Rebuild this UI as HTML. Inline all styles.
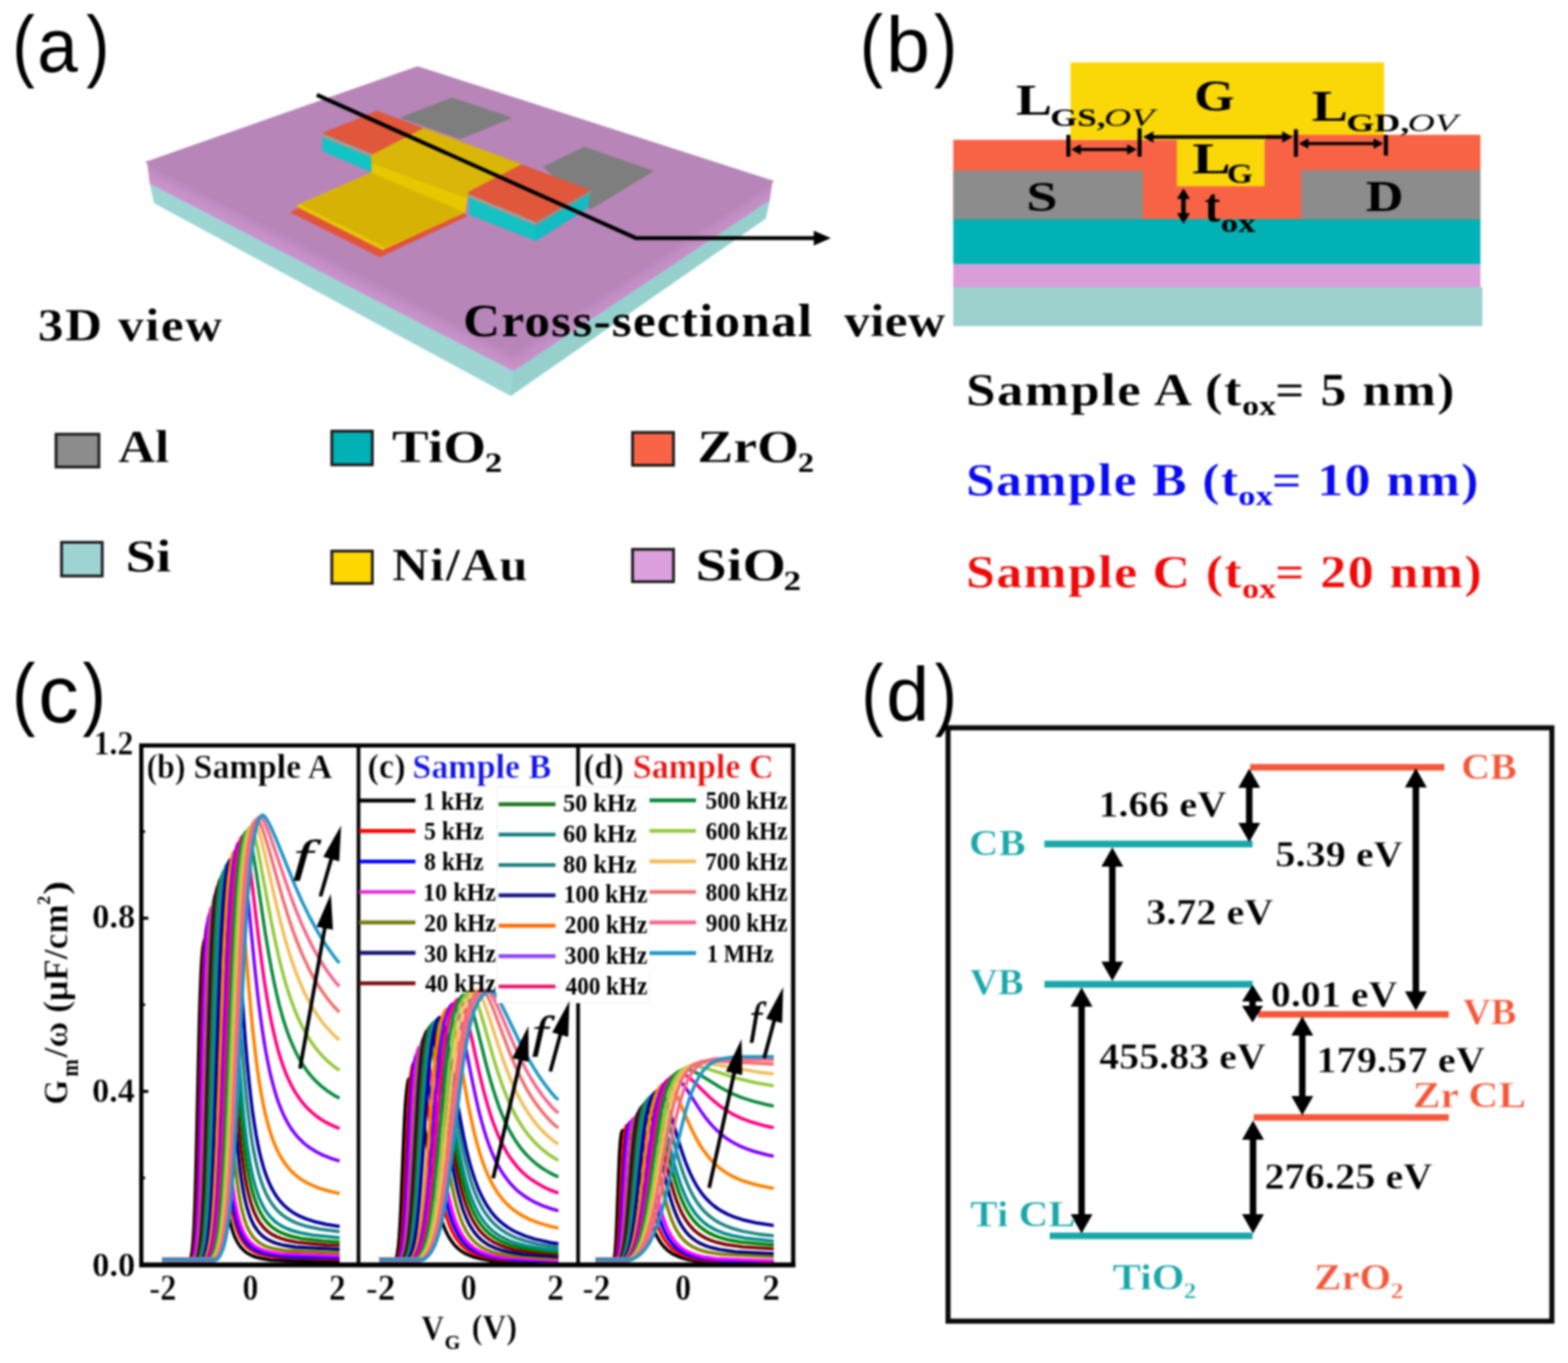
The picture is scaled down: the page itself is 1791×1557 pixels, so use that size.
<!DOCTYPE html>
<html lang="en">
<head>
<meta charset="utf-8">
<title>Figure</title>
<style>
html,body{margin:0;padding:0;background:#fff;}
body{width:1791px;height:1557px;overflow:hidden;}
svg{display:block;filter:blur(0.8px);}
text{white-space:pre;}
</style>
</head>
<body>
<svg xmlns="http://www.w3.org/2000/svg" width="1791" height="1557" viewBox="0 0 1791 1557">
<rect width="1791" height="1557" fill="#fff"/>
<!-- panel a -->
<defs><linearGradient id="sl" gradientUnits="userSpaceOnUse" x1="300" y1="254.6" x2="290.4" y2="273.1"><stop offset="0" stop-color="#b886b9"/><stop offset="0.5" stop-color="#c48fc6"/><stop offset="1" stop-color="#cb94cd"/></linearGradient><linearGradient id="sr" gradientUnits="userSpaceOnUse" x1="740" y1="301.4" x2="750" y2="316.5"><stop offset="0" stop-color="#b886b9"/><stop offset="0.5" stop-color="#c18dc3"/><stop offset="1" stop-color="#c891ca"/></linearGradient></defs>
<polygon points="171.3,209.5 586.4,423.5 583.4,452.1 176.3,232" fill="#9cd5d2" stroke="#9cd5d2" stroke-width="0.7" stroke-linejoin="round"/>
<polygon points="586.4,423.5 879,228.5 874.5,249.5 583.4,452.1" fill="#95d0cd" stroke="#95d0cd" stroke-width="0.7" stroke-linejoin="round"/>
<polygon points="168.3,184.2 588,399 586.4,423.5 171.3,209.5" fill="url(#sl)" stroke="url(#sl)" stroke-width="0.8"/>
<polygon points="588,399 881.9,206 879,228.5 586.4,423.5" fill="url(#sr)" stroke="url(#sr)" stroke-width="0.8"/>
<polygon points="166.3,185.2 477,76 883.9,207 588,401" fill="#b785b8" stroke="#b785b8" stroke-width="0.7" stroke-linejoin="round"/>
<polygon points="457.4,134.4 516,111.8 584.7,134.4 526,158.7" fill="#7e7e7e" stroke="#7e7e7e" stroke-width="0.7" stroke-linejoin="round"/>
<polygon points="620.7,190.5 667.6,167.9 746.3,195.5 674.3,239" fill="#7e7e7e" stroke="#7e7e7e" stroke-width="0.7" stroke-linejoin="round"/>
<polygon points="368.6,152 424.5,176 424.5,196.5 368.6,172.5" fill="#12c4c4" stroke="#12c4c4" stroke-width="0.7" stroke-linejoin="round"/>
<polygon points="536,221 612.3,253.3 612.3,275 536,245" fill="#14c2c4" stroke="#14c2c4" stroke-width="0.7" stroke-linejoin="round"/>
<polygon points="612.3,253.3 674.3,217.3 671,237.5 612.3,275" fill="#12bcc2" stroke="#12bcc2" stroke-width="0.7" stroke-linejoin="round"/>
<polygon points="368.6,152 424.5,176 424.5,179.5 368.6,156.5" fill="#a49a94" stroke="#a49a94" stroke-width="0.7" stroke-linejoin="round"/>
<polygon points="536,221 612.3,253.3 612.3,257.5 536,225.5" fill="#a49a94" stroke="#a49a94" stroke-width="0.7" stroke-linejoin="round"/>
<polygon points="612.3,253.3 674.3,217.3 673.5,221 612.3,257.5" fill="#8f8f8a" stroke="#8f8f8a" stroke-width="0.7" stroke-linejoin="round"/>
<polygon points="368.6,152 430.6,126.9 674.3,217.3 612.3,253.3" fill="#e0573c" stroke="#e0573c" stroke-width="0.7" stroke-linejoin="round"/>
<polygon points="331.8,242.4 425,198 534,246.5 434,293.5" fill="#e2533a" stroke="#e2533a" stroke-width="0.7" stroke-linejoin="round"/>
<polygon points="341,234 424.7,197.2 531.1,242.4 439,284.3 438,286 339,236" fill="#e6c60a" stroke="#e6c60a" stroke-width="0.7" stroke-linejoin="round"/>
<polygon points="343.5,233.5 424.7,197.2 531.1,242.4 439.5,282" fill="#d6b205" stroke="#d6b205" stroke-width="0.7" stroke-linejoin="round"/>
<polygon points="424.7,177.1 534.5,219 531.1,242.4 424.7,197.2" fill="#e6c800" stroke="#e6c800" stroke-width="0.7" stroke-linejoin="round"/>
<polygon points="424.7,177.1 484.2,146.4 595.4,187.6 534.5,219 534,226.5 424.7,186" fill="#d9b607" stroke="#d9b607" stroke-width="0.7" stroke-linejoin="round"/>
<polyline points="361.9,108.4 726.2,271.9 936,271.9" fill="none" stroke="#000" stroke-width="4.5" stroke-linejoin="miter"/>
<polygon points="949,272 929.5,263.5 929.5,280.5" fill="#000"/>
<text transform="matrix(1.1005 0 0 1.0000 43.2 388.8)" font-family="'Liberation Serif',serif" font-size="53.3" fill="#000" font-weight="bold" stroke="#fff" stroke-width="0.29" stroke-linejoin="round" letter-spacing="1.58">3D view</text>
<text transform="matrix(1.0964 0 0 1.0000 529.1 383.8)" font-family="'Liberation Serif',serif" font-size="53.3" fill="#000" font-weight="bold" letter-spacing="1.29">Cross-sectional</text>
<text transform="matrix(1.1170 0 0 1.0000 964 383.8)" font-family="'Liberation Serif',serif" font-size="53.3" fill="#000" font-weight="bold" stroke="#fff" stroke-width="0.28" stroke-linejoin="round">view</text>
<rect x="64" y="496" width="49" height="37.5" fill="#8c8c8c" stroke="#1c1c1c" stroke-width="3.2"/>
<rect x="70.3" y="619.5" width="46.5" height="38.5" fill="#9dd4d3" stroke="#1c1c1c" stroke-width="3.2"/>
<rect x="379" y="492.5" width="46.3" height="38.5" fill="#00b2b5" stroke="#1c1c1c" stroke-width="3.2"/>
<rect x="379" y="629.5" width="46.3" height="37" fill="#ffd700" stroke="#1c1c1c" stroke-width="3.2"/>
<rect x="722.5" y="494" width="46.8" height="37.5" fill="#fa6446" stroke="#1c1c1c" stroke-width="3.2"/>
<rect x="722.5" y="627.5" width="46.8" height="37" fill="#dca0dc" stroke="#1c1c1c" stroke-width="3.2"/>
<text transform="matrix(1.1235 0 0 1.0000 135 528)" font-family="'Liberation Serif',serif" font-size="51.8" fill="#000" font-weight="bold" stroke="#fff" stroke-width="0.28" stroke-linejoin="round">Al</text>
<text transform="matrix(1.2130 0 0 1.0000 143.4 652.5)" font-family="'Liberation Serif',serif" font-size="51.8" fill="#000" font-weight="bold" stroke="#fff" stroke-width="0.27" stroke-linejoin="round">Si</text>
<text transform="matrix(1.2164 0 0 1.0000 447.8 528)" font-family="'Liberation Serif',serif" font-size="51.8" fill="#000" font-weight="bold" stroke="#fff" stroke-width="0.27" stroke-linejoin="round">TiO</text>
<text transform="matrix(1.2798 0 0 1.0000 553.8 538.8)" font-family="'Liberation Serif',serif" font-size="31.3" fill="#000" font-weight="bold">2</text>
<text transform="matrix(1.1094 0 0 1.0000 447.9 663)" font-family="'Liberation Serif',serif" font-size="51.8" fill="#000" font-weight="bold" stroke="#fff" stroke-width="0.28" stroke-linejoin="round" letter-spacing="1.71">Ni/Au</text>
<text transform="matrix(1.1860 0 0 1.0000 796.6 528)" font-family="'Liberation Serif',serif" font-size="51.8" fill="#000" font-weight="bold" stroke="#fff" stroke-width="0.27" stroke-linejoin="round">ZrO</text>
<text transform="matrix(1.1920 0 0 1.0000 911.3 538.8)" font-family="'Liberation Serif',serif" font-size="31.3" fill="#000" font-weight="bold">2</text>
<text transform="matrix(1.2369 0 0 1.0000 794.5 663)" font-family="'Liberation Serif',serif" font-size="51.8" fill="#000" font-weight="bold" stroke="#fff" stroke-width="0.27" stroke-linejoin="round">SiO</text>
<text transform="matrix(1.2798 0 0 1.0000 895 673.8)" font-family="'Liberation Serif',serif" font-size="31.3" fill="#000" font-weight="bold">2</text>
<text transform="matrix(0.7716 0 0 0.9107 13.9 81.9)" font-family="'Liberation Sans',sans-serif" font-size="100" fill="#000">(</text><text transform="matrix(0.8339 0 0 0.8747 42.4 82)" font-family="'Liberation Sans',sans-serif" font-size="100" fill="#000">a</text><text transform="matrix(0.8000 0 0 0.9107 98.5 81.9)" font-family="'Liberation Sans',sans-serif" font-size="100" fill="#000">)</text>
<!-- panel b -->
<rect x="1088.8" y="328" width="604.4" height="44.6" fill="#9bd0cd"/>
<rect x="1088.8" y="301.7" width="602.2" height="26.3" fill="#d99dd9"/>
<rect x="1088.8" y="250" width="602.2" height="51.7" fill="#00b2b5"/>
<rect x="1088.8" y="159.7" width="602.2" height="90.6" fill="#f96345"/>
<rect x="1222.8" y="71.3" width="358.1" height="88.4" fill="#fad707"/>
<rect x="1446" y="154" width="245" height="8" fill="#f96345"/>
<rect x="1344.2" y="157" width="100.2" height="55.8" fill="#fad707"/>
<rect x="1088.8" y="194.8" width="216.6" height="55.5" fill="#8c8c8c"/>
<rect x="1486.3" y="194.4" width="204.7" height="55.9" fill="#8c8c8c"/>
<line x1="1220.3" y1="154" x2="1220.3" y2="179" stroke="#000" stroke-width="4.6"/>
<line x1="1301.7" y1="146.4" x2="1301.7" y2="179" stroke="#000" stroke-width="4.6"/>
<line x1="1480.2" y1="147.7" x2="1480.2" y2="179" stroke="#000" stroke-width="4.6"/>
<line x1="1583" y1="154" x2="1583" y2="177.7" stroke="#000" stroke-width="4.6"/>
<polygon points="1223.5,170.7 1234.5,164.7 1234.5,176.7" fill="#000"/><line x1="1232.3" y1="170.7" x2="1289.7" y2="170.7" stroke="#000" stroke-width="3.6"/><polygon points="1298.5,170.7 1287.5,176.7 1287.5,164.7" fill="#000"/>
<polygon points="1305.5,156.5 1317.5,150 1317.5,163" fill="#000"/><line x1="1315.1" y1="156.5" x2="1466.9" y2="156.5" stroke="#000" stroke-width="4"/><polygon points="1476.5,156.5 1464.5,163 1464.5,150" fill="#000"/>
<polygon points="1483.5,164 1494.5,158 1494.5,170" fill="#000"/><line x1="1492.3" y1="164" x2="1571.2" y2="164" stroke="#000" stroke-width="3.6"/><polygon points="1580,164 1569,170 1569,158" fill="#000"/>
<polygon points="1351.8,215.3 1359.3,227.3 1344.3,227.3" fill="#000"/><line x1="1351.8" y1="224.9" x2="1351.8" y2="245.8" stroke="#000" stroke-width="5"/><polygon points="1351.8,255.4 1344.3,243.4 1359.3,243.4" fill="#000"/>
<text transform="matrix(0.5927 0 0 0.5105 1364 125.6)" font-family="'Liberation Serif',serif" font-size="100" fill="#000" font-weight="bold">G</text>
<text transform="matrix(1.1980 0 0 1.0000 1160.4 131.4)" font-family="'Liberation Serif',serif" font-size="51.5" fill="#000" font-weight="bold">L</text>
<text transform="matrix(1.3932 0 0 1.0000 1199.6 143.9)" font-family="'Liberation Serif',serif" font-size="28.6" fill="#000" font-weight="bold">GS,</text>
<text transform="matrix(1.4509 0 0 1.0000 1260.9 143.9)" font-family="'Liberation Serif',serif" font-size="29.7" fill="#000" font-style="italic">OV</text>
<text transform="matrix(1.1948 0 0 1.0000 1498.5 137.7)" font-family="'Liberation Serif',serif" font-size="51.5" fill="#000" font-weight="bold">L</text>
<text transform="matrix(1.4386 0 0 1.0000 1537.7 150.2)" font-family="'Liberation Serif',serif" font-size="28.6" fill="#000" font-weight="bold">GD,</text>
<text transform="matrix(1.4509 0 0 1.0000 1607.7 150.2)" font-family="'Liberation Serif',serif" font-size="29.7" fill="#000" font-style="italic">OV</text>
<text transform="matrix(0.6421 0 0 0.4916 1172.2 240.8)" font-family="'Liberation Serif',serif" font-size="100" fill="#000" font-weight="bold">S</text>
<text transform="matrix(0.5968 0 0 0.5031 1560 240.8)" font-family="'Liberation Serif',serif" font-size="100" fill="#000" font-weight="bold">D</text>
<text transform="matrix(1.2745 0 0 1.0000 1362 197.8)" font-family="'Liberation Serif',serif" font-size="51.5" fill="#000" font-weight="bold">L</text>
<text transform="matrix(0.3840 0 0 0.3084 1401.2 208.5)" font-family="'Liberation Serif',serif" font-size="100" fill="#000" font-weight="bold">G</text>
<text transform="matrix(0.5333 0 0 0.5474 1376 253.2)" font-family="'Liberation Serif',serif" font-size="100" fill="#000" font-weight="bold">t</text>
<text transform="matrix(0.4005 0 0 0.3000 1394.3 264.9)" font-family="'Liberation Serif',serif" font-size="100" fill="#000" font-weight="bold">ox</text>
<text transform="matrix(1.1347 0 0 1.0000 1103.5 462.5)" font-family="'Liberation Serif',serif" font-size="53.3" fill="#000" font-weight="bold" stroke="#fff" stroke-width="0.28" stroke-linejoin="round" letter-spacing="1.38">Sample A (t</text>
<text transform="matrix(0.3892 0 0 0.3060 1418.8 473.6)" font-family="'Liberation Serif',serif" font-size="100" fill="#000" font-weight="bold">ox</text>
<text transform="matrix(1.1124 0 0 1.0000 1456.2 462.5)" font-family="'Liberation Serif',serif" font-size="53.3" fill="#000" font-weight="bold" stroke="#fff" stroke-width="0.28" stroke-linejoin="round" letter-spacing="1.50">= 5 nm)</text>
<text transform="matrix(1.1077 0 0 1.0000 1103.5 566.3)" font-family="'Liberation Serif',serif" font-size="53.3" fill="#0a0aee" font-weight="bold" stroke="#fff" stroke-width="0.28" stroke-linejoin="round" letter-spacing="1.39">Sample B (t</text>
<text transform="matrix(0.3974 0 0 0.3060 1414.3 577.4)" font-family="'Liberation Serif',serif" font-size="100" fill="#0a0aee" font-weight="bold">ox</text>
<text transform="matrix(1.1113 0 0 1.0000 1452.7 566.3)" font-family="'Liberation Serif',serif" font-size="53.3" fill="#0a0aee" font-weight="bold" stroke="#fff" stroke-width="0.28" stroke-linejoin="round" letter-spacing="1.49">= 10 nm)</text>
<text transform="matrix(1.1098 0 0 1.0000 1103.5 671.4)" font-family="'Liberation Serif',serif" font-size="53.3" fill="#ee0a0a" font-weight="bold" stroke="#fff" stroke-width="0.28" stroke-linejoin="round" letter-spacing="1.41">Sample C (t</text>
<text transform="matrix(0.3892 0 0 0.3060 1418.8 682.5)" font-family="'Liberation Serif',serif" font-size="100" fill="#ee0a0a" font-weight="bold">ox</text>
<text transform="matrix(1.1123 0 0 1.0000 1456.2 671.4)" font-family="'Liberation Serif',serif" font-size="53.3" fill="#ee0a0a" font-weight="bold" stroke="#fff" stroke-width="0.28" stroke-linejoin="round" letter-spacing="1.49">= 20 nm)</text>
<text transform="matrix(0.8000 0 0 0.9191 982.1 81.7)" font-family="'Liberation Sans',sans-serif" font-size="100" fill="#000">(</text><text transform="matrix(0.9026 0 0 0.8893 1012 82)" font-family="'Liberation Sans',sans-serif" font-size="100" fill="#000">b</text><text transform="matrix(0.8036 0 0 0.9191 1066.8 81.7)" font-family="'Liberation Sans',sans-serif" font-size="100" fill="#000">)</text>
<!-- panel d -->
<rect x="1082.9" y="831.4" width="689.7" height="677.8" fill="#fff" stroke="#0a0a0a" stroke-width="5.8"/>
<line x1="1192.9" y1="964.1" x2="1430.7" y2="964.1" stroke="#1aa7a9" stroke-width="7.6"/>
<line x1="1192.9" y1="1124.4" x2="1430.7" y2="1124.4" stroke="#1aa7a9" stroke-width="7.6"/>
<line x1="1199" y1="1411.7" x2="1430.7" y2="1411.7" stroke="#1aa7a9" stroke-width="7.6"/>
<line x1="1428" y1="876.5" x2="1649.8" y2="876.5" stroke="#f4583a" stroke-width="7.6"/>
<line x1="1437" y1="1158.8" x2="1654.8" y2="1158.8" stroke="#f4583a" stroke-width="7.6"/>
<line x1="1432" y1="1276.5" x2="1654.8" y2="1276.5" stroke="#f4583a" stroke-width="7.6"/>
<polygon points="1426.9,878 1439.4,900 1414.4,900" fill="#000"/><line x1="1426.9" y1="895.6" x2="1426.9" y2="944.4" stroke="#000" stroke-width="7.4"/><polygon points="1426.9,962 1414.4,940 1439.4,940" fill="#000"/>
<polygon points="1270.5,968 1283,990 1258,990" fill="#000"/><line x1="1270.5" y1="985.6" x2="1270.5" y2="1102.9" stroke="#000" stroke-width="7.4"/><polygon points="1270.5,1120.5 1258,1098.5 1283,1098.5" fill="#000"/>
<polygon points="1617.2,877.5 1629.7,899.5 1604.7,899.5" fill="#000"/><line x1="1617.2" y1="895.1" x2="1617.2" y2="1136.9" stroke="#000" stroke-width="7.4"/><polygon points="1617.2,1154.5 1604.7,1132.5 1629.7,1132.5" fill="#000"/>
<polygon points="1430.7,1125 1442.7,1144 1418.7,1144" fill="#000"/><line x1="1430.7" y1="1140.2" x2="1430.7" y2="1152.8" stroke="#000" stroke-width="7.4"/><polygon points="1430.7,1168 1418.7,1149 1442.7,1149" fill="#000"/>
<polygon points="1235.4,1128 1247.9,1150 1222.9,1150" fill="#000"/><line x1="1235.4" y1="1145.6" x2="1235.4" y2="1391.4" stroke="#000" stroke-width="7.4"/><polygon points="1235.4,1409 1222.9,1387 1247.9,1387" fill="#000"/>
<polygon points="1487.5,1161 1500,1183 1475,1183" fill="#000"/><line x1="1487.5" y1="1178.6" x2="1487.5" y2="1256.4" stroke="#000" stroke-width="7.4"/><polygon points="1487.5,1274 1475,1252 1500,1252" fill="#000"/>
<polygon points="1431.2,1280 1443.7,1302 1418.7,1302" fill="#000"/><line x1="1431.2" y1="1297.6" x2="1431.2" y2="1391.4" stroke="#000" stroke-width="7.4"/><polygon points="1431.2,1409 1418.7,1387 1443.7,1387" fill="#000"/>
<text transform="matrix(1.1116 0 0 1.0000 1106.8 976.7)" font-family="'Liberation Serif',serif" font-size="41.9" fill="#1aa7a9" font-weight="bold" stroke="#fff" stroke-width="0.43" stroke-linejoin="round">CB</text>
<text transform="matrix(1.0559 0 0 1.0000 1107.7 1136.3)" font-family="'Liberation Serif',serif" font-size="41.9" fill="#1aa7a9" font-weight="bold" stroke="#fff" stroke-width="0.44" stroke-linejoin="round">VB</text>
<text transform="matrix(1.1198 0 0 1.0000 1108.3 1400.5)" font-family="'Liberation Serif',serif" font-size="41.9" fill="#1aa7a9" font-weight="bold" stroke="#fff" stroke-width="0.42" stroke-linejoin="round">Ti CL</text>
<text transform="matrix(1.1486 0 0 1.0000 1271 1473)" font-family="'Liberation Serif',serif" font-size="41.9" fill="#1aa7a9" font-weight="bold" stroke="#fff" stroke-width="0.42" stroke-linejoin="round">TiO</text>
<text transform="matrix(1.1473 0 0 1.0000 1352.1 1483)" font-family="'Liberation Serif',serif" font-size="25.3" fill="#1aa7a9" font-weight="bold" stroke="#fff" stroke-width="0.42" stroke-linejoin="round">2</text>
<text transform="matrix(1.1107 0 0 1.0000 1501.1 1473)" font-family="'Liberation Serif',serif" font-size="41.9" fill="#f4583a" font-weight="bold" stroke="#fff" stroke-width="0.43" stroke-linejoin="round">ZrO</text>
<text transform="matrix(1.1473 0 0 1.0000 1588.6 1483)" font-family="'Liberation Serif',serif" font-size="25.3" fill="#f4583a" font-weight="bold" stroke="#fff" stroke-width="0.42" stroke-linejoin="round">2</text>
<text transform="matrix(1.0917 0 0 1.0000 1668.9 890.3)" font-family="'Liberation Serif',serif" font-size="41.9" fill="#f4583a" font-weight="bold" stroke="#fff" stroke-width="0.43" stroke-linejoin="round">CB</text>
<text transform="matrix(1.0506 0 0 1.0000 1671 1169.6)" font-family="'Liberation Serif',serif" font-size="41.9" fill="#f4583a" font-weight="bold" stroke="#fff" stroke-width="0.44" stroke-linejoin="round">VB</text>
<text transform="matrix(1.1286 0 0 1.0000 1613.8 1265.2)" font-family="'Liberation Serif',serif" font-size="41.9" fill="#f4583a" font-weight="bold" stroke="#fff" stroke-width="0.42" stroke-linejoin="round">Zr CL</text>
<text transform="matrix(1.1040 0 0 1.0000 1254.4 932.8)" font-family="'Liberation Serif',serif" font-size="41.9" fill="#000" font-weight="bold" stroke="#fff" stroke-width="0.43" stroke-linejoin="round">1.66 eV</text>
<text transform="matrix(1.0959 0 0 1.0000 1309.2 1055.6)" font-family="'Liberation Serif',serif" font-size="41.9" fill="#000" font-weight="bold" stroke="#fff" stroke-width="0.43" stroke-linejoin="round">3.72 eV</text>
<text transform="matrix(1.0974 0 0 1.0000 1456.8 990.4)" font-family="'Liberation Serif',serif" font-size="41.9" fill="#000" font-weight="bold" stroke="#fff" stroke-width="0.43" stroke-linejoin="round">5.39 eV</text>
<text transform="matrix(1.0898 0 0 1.0000 1451.6 1150)" font-family="'Liberation Serif',serif" font-size="41.9" fill="#000" font-weight="bold" stroke="#fff" stroke-width="0.43" stroke-linejoin="round">0.01 eV</text>
<text transform="matrix(1.0904 0 0 1.0000 1255.5 1221.4)" font-family="'Liberation Serif',serif" font-size="41.9" fill="#000" font-weight="bold" stroke="#fff" stroke-width="0.43" stroke-linejoin="round">455.83 eV</text>
<text transform="matrix(1.1042 0 0 1.0000 1503.4 1225.2)" font-family="'Liberation Serif',serif" font-size="41.9" fill="#000" font-weight="bold" stroke="#fff" stroke-width="0.43" stroke-linejoin="round">179.57 eV</text>
<text transform="matrix(1.0992 0 0 1.0000 1444.3 1357.9)" font-family="'Liberation Serif',serif" font-size="41.9" fill="#000" font-weight="bold" stroke="#fff" stroke-width="0.43" stroke-linejoin="round">276.25 eV</text>
<text transform="matrix(0.7573 0 0 0.9065 984 822.9)" font-family="'Liberation Sans',sans-serif" font-size="100" fill="#000">(</text><text transform="matrix(0.8832 0 0 0.8787 1012.2 823.3)" font-family="'Liberation Sans',sans-serif" font-size="100" fill="#000">d</text><text transform="matrix(0.7573 0 0 0.9065 1067.7 822.9)" font-family="'Liberation Sans',sans-serif" font-size="100" fill="#000">)</text>
<!-- panel c -->
<g fill="none" stroke-width="3.8" stroke-linejoin="round" stroke-linecap="butt">
<path d="M185.1,1442.5 214.5,1442.5 215.5,1442.4 216.5,1441 217.5,1438.7 218.6,1434.8 219.6,1428.4 220.6,1418.1 221.6,1402 222.6,1378.3 223.6,1345.3 224.6,1303.7 226.7,1209.3 227.7,1167.4 228.7,1134.1 229.7,1110 230.7,1093.7 231.7,1083.2 232.8,1076.7 233.8,1073.3 234.8,1072.6 235.8,1073.5 236.8,1075.7 237.8,1079.8 238.8,1086.1 239.9,1095.2 240.9,1107 241.9,1121.5 242.9,1138.3 244.9,1176.8 248,1237.7 250,1274.5 251,1291 252,1306.1 253,1319.7 254.1,1332 255.1,1343 256.1,1352.8 257.1,1361.6 258.1,1369.3 259.1,1376.3 260.1,1382.4 261.1,1387.9 262.2,1392.8 263.2,1397.1 264.2,1401 265.2,1404.5 266.2,1407.6 267.2,1410.4 268.2,1413 269.3,1415.2 270.3,1417.3 271.3,1419.1 272.3,1420.8 274.3,1423.8 276.4,1426.2 278.4,1428.2 280.4,1429.9 282.4,1431.4 285.5,1433.2 288.5,1434.6 292.6,1436.1 298.7,1437.7 308.8,1439.3 387.9,1442" stroke="#000000"/>
<path d="M185.1,1440.1 218.6,1440.1 219.6,1437.6 220.6,1433.5 221.6,1427.2 222.6,1417.5 223.6,1403 224.6,1382.1 225.7,1353.7 226.7,1317.4 229.7,1185.8 230.7,1147.6 231.7,1116.9 232.8,1094.1 233.8,1078 234.8,1067.2 235.8,1060.1 236.8,1055.7 237.8,1053.9 238.8,1054.1 239.9,1055.7 240.9,1058.8 241.9,1064.2 242.9,1072 243.9,1082.7 244.9,1096.3 245.9,1112.4 247,1130.7 252,1234 254.1,1271.1 255.1,1287.6 256.1,1302.6 257.1,1316.2 258.1,1328.4 259.1,1339.3 260.1,1349.1 261.1,1357.8 262.2,1365.5 263.2,1372.4 264.2,1378.5 265.2,1384 266.2,1388.8 267.2,1393.2 268.2,1397.1 269.3,1400.6 270.3,1403.7 271.3,1406.5 272.3,1409 273.3,1411.3 274.3,1413.4 275.3,1415.3 276.4,1417 278.4,1419.9 280.4,1422.4 282.4,1424.4 284.5,1426.2 286.5,1427.6 289.5,1429.5 292.6,1430.9 296.6,1432.4 302.7,1434.1 312.9,1435.8 387.9,1438.6" stroke="#ff0000"/>
<path d="M185.1,1437.8 219.6,1437.8 220.6,1437.4 221.6,1433.5 222.6,1427.6 223.6,1418.7 224.6,1405.7 225.7,1387.1 226.7,1361.8 227.7,1329.2 228.7,1290.1 230.7,1203 231.7,1162.5 232.8,1128.1 233.8,1100.9 234.8,1080.6 235.8,1066.3 236.8,1056.4 237.8,1049.8 238.8,1045.7 239.9,1044 240.9,1044.3 241.9,1045.8 242.9,1049 243.9,1054.4 244.9,1062.4 245.9,1073.2 247,1086.9 248,1103.2 249,1121.7 254.1,1226.7 256.1,1264.6 257.1,1281.5 258.1,1296.9 259.1,1310.8 260.1,1323.4 261.1,1334.6 262.2,1344.7 263.2,1353.6 264.2,1361.6 265.2,1368.7 266.2,1375 267.2,1380.6 268.2,1385.7 269.3,1390.2 270.3,1394.2 271.3,1397.8 272.3,1401 273.3,1403.9 274.3,1406.5 275.3,1408.9 276.4,1411 277.4,1413 278.4,1414.7 280.4,1417.8 282.4,1420.3 284.5,1422.5 286.5,1424.3 288.5,1425.8 290.6,1427.1 293.6,1428.7 297.7,1430.4 302.7,1432 310.8,1433.6 331.1,1435.7 387.9,1437.1" stroke="#0000ff"/>
<path d="M185.1,1441.3 219.6,1441.3 220.6,1439.8 221.6,1437.3 222.6,1433.6 223.6,1428 224.6,1419.9 225.7,1408.1 226.7,1391.5 227.7,1369 228.7,1339.9 229.7,1304.4 232.8,1180 233.8,1143 234.8,1112.2 235.8,1088 236.8,1070 237.8,1057.1 238.8,1048.2 239.9,1042.1 240.9,1038.3 241.9,1036.6 242.9,1036.8 243.9,1038.4 244.9,1041.7 245.9,1047.1 247,1055.1 248,1066 249,1079.7 250,1096.1 251,1114.7 256.1,1220.7 258.1,1259.1 259.1,1276.2 260.1,1291.8 261.1,1306 262.2,1318.7 263.2,1330.1 264.2,1340.4 265.2,1349.5 266.2,1357.6 267.2,1364.8 268.2,1371.3 269.3,1377 270.3,1382.1 271.3,1386.7 272.3,1390.8 273.3,1394.5 274.3,1397.8 275.3,1400.8 276.4,1403.4 277.4,1405.8 278.4,1408 279.4,1410 280.4,1411.8 282.4,1414.9 284.5,1417.5 286.5,1419.7 288.5,1421.5 290.6,1423.1 292.6,1424.4 295.6,1426.1 298.7,1427.4 302.7,1428.8 308.8,1430.3 320,1432.1 387.9,1434.6" stroke="#ff00ff"/>
<path d="M185.1,1439 222.6,1439 223.6,1437.7 224.6,1434.6 225.7,1430.2 226.7,1424 227.7,1415.1 228.7,1403 229.7,1386.5 230.7,1365 231.7,1338 232.8,1305.5 236.8,1153.2 237.8,1120.8 238.8,1093.8 239.9,1072.4 240.9,1056.1 241.9,1044 242.9,1035.2 243.9,1029 244.9,1024.7 245.9,1022.3 247,1021.7 248,1022.6 249,1025 250,1029.2 251,1035.9 252,1045.2 253,1057.4 254.1,1072.4 255.1,1089.9 257.1,1130.5 261.1,1216.9 263.2,1255.1 264.2,1272.1 265.2,1287.6 266.2,1301.6 267.2,1314.3 268.2,1325.6 269.3,1335.8 270.3,1344.9 271.3,1353 272.3,1360.2 273.3,1366.7 274.3,1372.4 275.3,1377.6 276.4,1382.2 277.4,1386.3 278.4,1390 279.4,1393.4 280.4,1396.4 281.4,1399.1 282.4,1401.6 283.5,1403.8 284.5,1405.8 285.5,1407.6 287.5,1410.8 289.5,1413.5 291.6,1415.7 293.6,1417.6 295.6,1419.2 297.7,1420.6 300.7,1422.3 303.7,1423.7 307.8,1425.1 313.9,1426.7 325,1428.5 387.9,1431.1" stroke="#808000"/>
<path d="M185.1,1442.5 220.6,1442.5 221.6,1442.5 222.6,1441.6 223.6,1440.4 224.6,1438.6 225.7,1436.2 226.7,1432.7 227.7,1427.9 228.7,1421.2 229.7,1412 230.7,1399.6 231.7,1383.3 232.8,1362.4 233.8,1336.5 234.8,1305.7 238.8,1159.2 239.9,1126.4 240.9,1098.1 241.9,1074.9 242.9,1056.4 243.9,1042.3 244.9,1031.7 245.9,1023.9 247,1018.3 248,1014.4 249,1012.2 250,1011.9 251,1013.3 252,1016.5 253,1021.9 254.1,1029.7 255.1,1040.2 256.1,1053.4 257.1,1068.9 258.1,1086.5 264.2,1206.6 266.2,1242.3 267.2,1258.3 268.2,1273 269.3,1286.5 270.3,1298.8 271.3,1309.9 272.3,1320 273.3,1329.1 274.3,1337.4 275.3,1344.8 276.4,1351.5 277.4,1357.6 278.4,1363.1 279.4,1368.1 280.4,1372.6 281.4,1376.7 282.4,1380.4 283.5,1383.8 284.5,1386.8 285.5,1389.7 286.5,1392.2 287.5,1394.6 289.5,1398.7 291.6,1402.2 293.6,1405.1 295.6,1407.7 297.7,1409.8 299.7,1411.7 301.7,1413.4 304.8,1415.4 307.8,1417.1 311.9,1418.9 316.9,1420.7 324,1422.5 337.2,1424.5 387.9,1427.2" stroke="#000080"/>
<path d="M185.1,1440.1 224.6,1440.1 225.7,1438.9 226.7,1436.7 227.7,1433.7 228.7,1429.5 229.7,1423.8 230.7,1416 231.7,1405.7 232.8,1392 233.8,1374.5 234.8,1352.6 235.8,1326 236.8,1295.1 240.9,1153 241.9,1121.3 242.9,1093.8 243.9,1070.9 244.9,1052.4 245.9,1038 247,1027 248,1018.8 249,1012.7 250,1008.3 251,1005.5 252,1004.4 253,1005.3 254.1,1008.2 255.1,1013.2 256.1,1020.7 257.1,1030.7 258.1,1043.2 259.1,1057.9 260.1,1074.5 266.2,1188.7 268.2,1223.4 270.3,1253.9 271.3,1267.4 272.3,1279.8 273.3,1291.2 274.3,1301.7 275.3,1311.2 276.4,1319.8 277.4,1327.7 278.4,1334.9 279.4,1341.5 280.4,1347.4 281.4,1352.9 282.4,1357.8 283.5,1362.4 284.5,1366.5 285.5,1370.3 286.5,1373.8 287.5,1377 289.5,1382.6 291.6,1387.4 293.6,1391.5 295.6,1395 297.7,1398 299.7,1400.6 301.7,1402.9 303.7,1404.9 305.8,1406.6 308.8,1408.9 311.9,1410.8 315.9,1412.8 321,1414.8 328.1,1416.9 339.2,1419.1 372.7,1422.1 387.9,1422.7" stroke="#800000"/>
<path d="M185.1,1437.8 226.7,1437.8 227.7,1437.3 228.7,1434.6 229.7,1430.9 230.7,1426 231.7,1419.4 232.8,1410.7 233.8,1399.2 234.8,1384.5 235.8,1366 236.8,1343.3 237.8,1316.4 238.8,1285.8 242.9,1148.4 243.9,1117.9 244.9,1091.3 245.9,1068.8 247,1050.5 248,1036 249,1024.7 250,1016.1 251,1009.6 252,1004.8 253,1001.4 254.1,999.6 255.1,999.8 256.1,1002.1 257.1,1006.7 258.1,1013.6 259.1,1023 260.1,1034.7 261.1,1048.6 262.2,1064.3 268.2,1173.5 270.3,1207.3 272.3,1237.4 274.3,1263.4 275.3,1275 276.4,1285.6 277.4,1295.4 278.4,1304.4 279.4,1312.6 280.4,1320.2 281.4,1327.1 282.4,1333.4 283.5,1339.2 284.5,1344.5 285.5,1349.4 286.5,1353.9 287.5,1358.1 289.5,1365.4 291.6,1371.7 293.6,1377 295.6,1381.6 297.7,1385.6 299.7,1389.1 301.7,1392.1 303.7,1394.7 305.8,1397.1 307.8,1399.1 310.8,1401.8 313.9,1404 316.9,1405.9 321,1408 326,1410.1 333.1,1412.4 344.3,1414.8 369.6,1417.7 387.9,1418.8" stroke="#008000"/>
<path d="M185.1,1441.3 225.7,1441.3 226.7,1440.5 227.7,1439.1 228.7,1437.2 229.7,1434.6 230.7,1431.1 231.7,1426.4 232.8,1420.2 233.8,1412 234.8,1401.5 235.8,1387.9 236.8,1370.9 237.8,1350.1 238.8,1325.4 239.9,1296.8 243.9,1163.4 244.9,1131.9 245.9,1103.6 247,1079 248,1058.5 249,1041.7 250,1028.4 251,1018 252,1010 253,1003.9 254.1,999.3 255.1,996.2 256.1,994.6 257.1,995 258.1,997.7 259.1,1002.8 260.1,1010.3 261.1,1020.1 262.2,1032.2 263.2,1046.3 265.2,1078.7 270.3,1167.1 272.3,1199.4 274.3,1228.2 276.4,1253.3 278.4,1275 279.4,1284.5 280.4,1293.4 281.4,1301.5 282.4,1309.1 283.5,1316 284.5,1322.3 285.5,1328.2 287.5,1338.6 289.5,1347.5 291.6,1355.2 293.6,1361.7 295.6,1367.4 297.7,1372.2 299.7,1376.5 301.7,1380.2 303.7,1383.5 305.8,1386.4 307.8,1388.9 309.8,1391.2 312.9,1394.2 315.9,1396.7 318.9,1398.8 323,1401.2 328.1,1403.6 334.2,1405.9 342.3,1408.2 356.5,1410.9 386.9,1413.8 387.9,1413.8" stroke="#008b8b"/>
<path d="M185.1,1439 228.7,1439 229.7,1438.5 230.7,1436.5 231.7,1433.8 232.8,1430.3 233.8,1425.7 234.8,1419.8 235.8,1412 236.8,1402.2 237.8,1389.7 238.8,1374.2 239.9,1355.4 240.9,1333 241.9,1307.1 243.9,1246.8 247,1149.7 248,1120.3 249,1093.8 250,1070.9 251,1051.4 252,1035.4 253,1022.4 254.1,1012.2 255.1,1004.1 256.1,997.8 257.1,993.1 258.1,989.6 259.1,987.5 260.1,987.3 261.1,989.5 262.2,994.2 263.2,1001.4 264.2,1010.9 265.2,1022.5 266.2,1035.9 268.2,1066.5 273.3,1149.4 275.3,1180 277.4,1207.7 279.4,1232.1 281.4,1253.5 283.5,1272 285.5,1288 287.5,1301.8 289.5,1313.7 291.6,1324 293.6,1332.9 295.6,1340.7 297.7,1347.5 299.7,1353.4 301.7,1358.6 303.7,1363.1 305.8,1367.2 307.8,1370.8 309.8,1374 311.9,1376.9 313.9,1379.5 316.9,1382.8 320,1385.8 323,1388.3 327.1,1391.1 331.1,1393.5 336.2,1396 342.3,1398.4 351.4,1401.2 365.6,1404.1 385.9,1406.7 387.9,1406.9" stroke="#1e8484"/>
<path d="M185.1,1442.5 226.7,1442.5 227.7,1442.3 228.7,1441.6 229.7,1440.6 230.7,1439.4 231.7,1437.9 232.8,1435.8 233.8,1433.1 234.8,1429.7 235.8,1425.2 236.8,1419.5 237.8,1412.2 238.8,1402.9 239.9,1391.4 240.9,1377.3 241.9,1360.2 242.9,1339.9 243.9,1316.5 244.9,1290.1 250,1138.6 251,1111.1 252,1086.4 253,1064.9 254.1,1046.5 255.1,1031.2 256.1,1018.7 257.1,1008.6 258.1,1000.5 259.1,994.2 260.1,989.3 261.1,985.5 262.2,983 263.2,982.1 264.2,983.6 265.2,987.7 266.2,994.5 267.2,1003.5 268.2,1014.6 269.3,1027.3 271.3,1056.4 276.4,1134.9 278.4,1164.2 280.4,1190.8 282.4,1214.6 284.5,1235.7 286.5,1254.2 288.5,1270.4 290.6,1284.5 292.6,1296.8 294.6,1307.5 296.6,1317 298.7,1325.2 300.7,1332.5 302.7,1339 304.8,1344.7 306.8,1349.7 308.8,1354.2 310.8,1358.3 312.9,1361.9 314.9,1365.2 316.9,1368.1 320,1372.1 323,1375.5 326,1378.4 329.1,1381 333.1,1384 337.2,1386.6 342.3,1389.2 349.4,1392.3 358.5,1395.3 372.7,1398.6 386.9,1400.8 387.9,1400.9" stroke="#00009c"/>
<path d="M185.1,1440.1 231.7,1440.1 232.8,1439.8 233.8,1438.4 234.8,1436.7 235.8,1434.5 236.8,1431.7 237.8,1428.2 238.8,1423.7 239.9,1418 240.9,1411 241.9,1402.3 242.9,1391.5 243.9,1378.5 244.9,1363 245.9,1344.8 247,1323.7 248,1300 250,1245.9 254.1,1130.1 255.1,1104.3 256.1,1080.9 257.1,1060.1 258.1,1042.2 259.1,1027 260.1,1014.3 261.1,1003.8 262.2,995.3 263.2,988.5 264.2,983 265.2,978.6 266.2,975.3 267.2,973 268.2,972.3 269.3,973.4 270.3,976.7 271.3,981.9 272.3,989 273.3,997.6 274.3,1007.5 276.4,1030.4 283.5,1119.6 286.5,1154.2 288.5,1175 290.6,1193.7 292.6,1210.5 294.6,1225.5 296.6,1238.9 298.7,1250.9 300.7,1261.5 302.7,1270.9 304.8,1279.4 306.8,1286.9 308.8,1293.7 310.8,1299.7 312.9,1305.1 314.9,1310 316.9,1314.4 318.9,1318.4 321,1322.1 324,1326.9 327.1,1331.2 330.1,1334.9 333.1,1338.2 336.2,1341.1 340.2,1344.5 344.3,1347.4 349.4,1350.5 355.5,1353.6 363.6,1357 374.7,1360.4 385.9,1363 387.9,1363.3" stroke="#ff8000"/>
<path d="M185.1,1437.8 235.8,1437.8 236.8,1437.4 237.8,1435.5 238.8,1433.2 239.9,1430.3 240.9,1426.7 241.9,1422.2 242.9,1416.7 243.9,1409.9 244.9,1401.5 245.9,1391.5 247,1379.5 248,1365.2 249,1348.6 250,1329.5 251,1308 253,1258.6 257.1,1148.1 259.1,1097.4 260.1,1075.1 261.1,1055.2 262.2,1037.7 263.2,1022.6 264.2,1009.8 265.2,999.1 266.2,990.1 267.2,982.8 268.2,976.8 269.3,972 270.3,968.1 271.3,965.1 272.3,963.1 273.3,962.4 274.3,963.2 275.3,965.8 276.4,970 277.4,975.5 278.4,982.3 279.4,990.1 281.4,1008 290.6,1101.2 293.6,1129.5 295.6,1146.6 297.7,1162.4 299.7,1176.8 301.7,1189.9 303.7,1201.8 305.8,1212.6 307.8,1222.3 309.8,1231.1 311.9,1239.1 313.9,1246.4 315.9,1252.9 317.9,1258.9 320,1264.3 322,1269.3 324,1273.8 327.1,1279.9 330.1,1285.2 333.1,1290 336.2,1294.2 339.2,1297.9 342.3,1301.2 346.3,1305.1 350.4,1308.6 355.5,1312.2 361.5,1315.9 368.6,1319.5 377.8,1323.1 385.9,1325.7 387.9,1326.1" stroke="#8000ff"/>
<path d="M185.1,1441.3 234.8,1441.3 235.8,1440.7 236.8,1439.8 237.8,1438.7 238.8,1437.2 239.9,1435.4 240.9,1433.2 241.9,1430.5 242.9,1427.2 243.9,1423 244.9,1418 245.9,1411.8 247,1404.4 248,1395.5 249,1384.8 250,1372.3 251,1357.7 252,1340.9 253,1321.8 254.1,1300.6 256.1,1252.4 261.1,1120.7 262.2,1096.9 263.2,1074.9 264.2,1055.1 265.2,1037.5 266.2,1022.2 267.2,1009 268.2,997.7 269.3,988.2 270.3,980.3 271.3,973.7 272.3,968.3 273.3,963.9 274.3,960.4 275.3,957.6 276.4,955.7 277.4,954.9 278.4,955.6 279.4,957.6 280.4,960.8 281.4,965.2 282.4,970.4 283.5,976.5 285.5,990.5 288.5,1014.5 295.6,1073.9 298.7,1097.5 301.7,1119.2 304.8,1138.6 307.8,1156 309.8,1166.4 311.9,1176.1 313.9,1184.9 315.9,1193.1 317.9,1200.5 320,1207.4 323,1216.6 326,1224.7 329.1,1232 332.1,1238.4 335.2,1244.1 338.2,1249.3 341.3,1253.9 344.3,1258 348.4,1262.9 352.4,1267.2 356.5,1270.9 361.5,1275.1 366.6,1278.6 372.7,1282.3 380.8,1286.3 385.9,1288.4 386.9,1288.7 387.9,1289" stroke="#ff0080"/>
<path d="M185.1,1439 238.8,1439 239.9,1438.5 240.9,1437.1 241.9,1435.4 242.9,1433.3 243.9,1430.7 244.9,1427.6 245.9,1423.8 247,1419.2 248,1413.6 249,1407 250,1399 251,1389.6 252,1378.5 253,1365.6 254.1,1350.7 255.1,1333.9 256.1,1315 257.1,1294.1 259.1,1247.4 264.2,1120.9 266.2,1076.4 267.2,1056.8 268.2,1039.3 269.3,1023.8 270.3,1010.3 271.3,998.6 272.3,988.7 273.3,980.3 274.3,973.2 275.3,967.3 276.4,962.4 277.4,958.4 278.4,955.1 279.4,952.5 280.4,950.8 281.4,950 282.4,950.4 283.5,951.9 284.5,954.5 285.5,957.9 286.5,962 287.5,966.7 289.5,977.5 292.6,996.3 302.7,1064.1 306.8,1088.8 309.8,1105.7 312.9,1121.1 315.9,1135.1 318.9,1147.7 322,1159.1 325,1169.2 328.1,1178.3 331.1,1186.5 334.2,1193.8 337.2,1200.5 340.2,1206.5 343.3,1211.9 346.3,1216.9 350.4,1222.8 354.4,1228 358.5,1232.6 363.6,1237.7 368.6,1242.1 374.7,1246.7 381.8,1251.3 385.9,1253.5 386.9,1253.9 387.9,1254.3" stroke="#0b8a3c"/>
<path d="M185.1,1442.5 235.8,1442.5 236.8,1442.2 237.8,1441.7 238.8,1441.1 239.9,1440.4 240.9,1439.4 241.9,1438.3 242.9,1437 243.9,1435.3 244.9,1433.3 245.9,1430.9 247,1428 248,1424.5 249,1420.2 250,1415.2 251,1409.1 252,1402 253,1393.5 254.1,1383.7 255.1,1372.2 256.1,1359 257.1,1344 258.1,1327.2 259.1,1308.5 261.1,1266 267.2,1120.8 269.3,1077.5 270.3,1058.2 271.3,1040.8 272.3,1025.2 273.3,1011.5 274.3,999.5 275.3,989.2 276.4,980.3 277.4,972.8 278.4,966.4 279.4,961.1 280.4,956.6 281.4,952.9 282.4,949.9 283.5,947.5 284.5,945.9 285.5,945.1 286.5,945.3 287.5,946.5 288.5,948.5 289.5,951.2 290.6,954.5 291.6,958.2 293.6,966.7 295.6,976.3 309.8,1052.6 313.9,1072.7 317.9,1091.1 322,1107.6 325,1118.9 328.1,1129.2 331.1,1138.6 334.2,1147.2 337.2,1155.1 340.2,1162.2 344.3,1170.9 348.4,1178.6 352.4,1185.5 356.5,1191.7 360.5,1197.2 364.6,1202.2 369.6,1207.7 374.7,1212.6 380.8,1217.8 384.9,1220.8 385.9,1221.5 386.9,1222 387.9,1222.5" stroke="#96c83c"/>
<path d="M185.1,1440.1 241.9,1440.1 242.9,1439.3 243.9,1438.2 244.9,1436.8 245.9,1435.3 247,1433.4 248,1431.1 249,1428.3 250,1425 251,1421.1 252,1416.5 253,1411 254.1,1404.5 255.1,1396.9 256.1,1388 257.1,1377.7 258.1,1366 259.1,1352.6 260.1,1337.5 261.1,1320.7 262.2,1302.2 264.2,1260.7 270.3,1120.6 272.3,1078.3 273.3,1059.4 274.3,1042.1 275.3,1026.5 276.4,1012.7 277.4,1000.4 278.4,989.8 279.4,980.5 280.4,972.6 281.4,965.8 282.4,960 283.5,955.1 284.5,951 285.5,947.6 286.5,944.7 287.5,942.5 288.5,941 289.5,940.2 290.6,940.3 291.6,941.2 292.6,942.8 293.6,944.9 294.6,947.5 295.6,950.4 297.7,957.1 299.7,964.6 303.7,981.3 315.9,1034.7 321,1055.3 326,1074.1 330.1,1087.8 334.2,1100.1 338.2,1111.3 342.3,1121.5 346.3,1130.8 350.4,1139.1 354.4,1146.7 358.5,1153.6 363.6,1161.3 368.6,1168.2 373.7,1174.3 379.8,1180.8 383.8,1184.7 385.9,1186.5 386.9,1187.2 387.9,1187.7" stroke="#f2be5a"/>
<path d="M185.1,1437.8 244.9,1437.8 245.9,1437.4 247,1436 248,1434.3 249,1432.3 250,1429.9 251,1427 252,1423.6 253,1419.6 254.1,1414.8 255.1,1409.2 256.1,1402.7 257.1,1395.1 258.1,1386.2 259.1,1376.1 260.1,1364.5 261.1,1351.3 262.2,1336.6 263.2,1320.3 264.2,1302.3 266.2,1262.2 272.3,1125.6 274.3,1083.6 275.3,1064.5 276.4,1046.9 277.4,1030.9 278.4,1016.6 279.4,1003.8 280.4,992.5 281.4,982.7 282.4,974.1 283.5,966.8 284.5,960.5 285.5,955.1 286.5,950.5 287.5,946.6 288.5,943.4 289.5,940.7 290.6,938.6 291.6,937.1 292.6,936.3 293.6,936.3 294.6,937 295.6,938.3 296.6,940 297.7,942.1 298.7,944.4 300.7,949.7 302.7,955.7 306.8,969 323,1026.8 329.1,1046.7 333.1,1059 338.2,1073 343.3,1085.8 348.4,1097.3 353.4,1107.8 358.5,1117.2 363.6,1125.7 368.6,1133.4 374.7,1141.7 380.8,1149.1 384.9,1153.5 385.9,1154.5 386.9,1155.3 387.9,1155.9" stroke="#f07070"/>
<path d="M185.1,1441.3 242.9,1441.3 243.9,1440.8 244.9,1440.1 245.9,1439.2 247,1438.2 248,1437 249,1435.6 250,1433.9 251,1431.8 252,1429.5 253,1426.6 254.1,1423.3 255.1,1419.4 256.1,1414.7 257.1,1409.4 258.1,1403.1 259.1,1395.8 260.1,1387.5 261.1,1377.9 262.2,1366.9 263.2,1354.6 264.2,1340.8 265.2,1325.5 266.2,1308.7 268.2,1271 275.3,1117.8 277.4,1077.7 278.4,1059.4 279.4,1042.6 280.4,1027.3 281.4,1013.5 282.4,1001.2 283.5,990.3 284.5,980.7 285.5,972.3 286.5,965 287.5,958.8 288.5,953.4 289.5,948.8 290.6,944.8 291.6,941.5 292.6,938.7 293.6,936.5 294.6,934.7 295.6,933.6 296.6,933.2 297.7,933.5 298.7,934.3 299.7,935.6 300.7,937.1 301.7,939 303.7,943.2 305.8,948 308.8,955.9 331.1,1021.1 337.2,1037.5 343.3,1052.5 349.4,1066.2 355.5,1078.6 361.5,1089.9 367.6,1100.1 373.7,1109.3 379.8,1117.6 383.8,1122.7 385.9,1125 386.9,1125.9 387.9,1126.6" stroke="#f4688c"/>
<path d="M185.1,1439 247,1439 248,1438.7 249,1437.6 250,1436.3 251,1434.8 252,1433 253,1430.8 254.1,1428.3 255.1,1425.4 256.1,1422 257.1,1418 258.1,1413.3 259.1,1407.9 260.1,1401.6 261.1,1394.3 262.2,1386 263.2,1376.5 264.2,1365.8 265.2,1353.7 266.2,1340.2 267.2,1325.4 268.2,1309.1 270.3,1272.6 278.4,1103.2 280.4,1065.5 281.4,1048.6 282.4,1033 283.5,1018.9 284.5,1006.1 285.5,994.7 286.5,984.7 287.5,975.8 288.5,968 289.5,961.3 290.6,955.4 291.6,950.4 292.6,946.1 293.6,942.3 294.6,939.2 295.6,936.5 296.6,934.4 297.7,932.7 298.7,931.7 299.7,931.2 300.7,931.4 301.7,932.1 302.7,933.2 303.7,934.5 304.8,936.1 306.8,939.7 309.8,945.8 314.9,957.3 337.2,1012.2 345.3,1030.5 353.4,1047 360.5,1060.2 367.6,1072.2 374.7,1083.2 381.8,1093 384.9,1096.9 385.9,1098.1 386.9,1099 387.9,1099.8" stroke="#1e96c8"/>
<path d="M433.5,1442.5 449.9,1442.5 450.9,1441.5 451.9,1439.6 452.9,1436.6 453.9,1431.8 455,1424.4 456,1413.4 457,1397.9 458,1377.5 461.1,1301 462.1,1278.8 463.1,1261.4 464.2,1248.7 465.2,1240 466.2,1234.5 467.2,1232.2 468.2,1231.9 469.3,1232 470.3,1232.4 471.3,1233.1 472.3,1234.1 473.4,1235.6 474.4,1237.5 475.4,1240 476.4,1243 477.4,1246.6 478.5,1250.8 479.5,1255.5 480.5,1260.8 482.6,1272.7 490.7,1328 492.8,1341 494.8,1352.9 496.9,1363.7 498.9,1373.3 501,1381.7 503,1389.1 505,1395.6 507.1,1401.2 509.1,1406 511.2,1410.3 513.2,1413.9 515.3,1417.1 517.3,1419.9 519.3,1422.4 521.4,1424.5 523.4,1426.4 526.5,1428.8 529.6,1430.8 532.6,1432.5 536.7,1434.3 541.8,1436.2 549,1438 561.2,1440.1 637.9,1443.5" stroke="#000000"/>
<path d="M433.5,1440.1 452.9,1440.1 453.9,1439.7 455,1437.2 456,1433.6 457,1428.2 458,1420.7 459.1,1410.1 460.1,1396 461.1,1378.2 462.1,1356.9 465.2,1286.3 466.2,1266.2 467.2,1249.8 468.2,1237.2 469.3,1227.8 470.3,1221.2 471.3,1216.9 472.3,1214.9 473.4,1214.6 474.4,1214.7 475.4,1215.2 476.4,1215.9 477.4,1217 478.5,1218.5 479.5,1220.6 480.5,1223.2 481.5,1226.5 482.6,1230.3 483.6,1234.8 484.6,1239.8 485.6,1245.5 487.7,1258.2 496.9,1324.6 498.9,1338 501,1350.2 503,1361.2 505,1370.9 507.1,1379.4 509.1,1386.9 511.2,1393.4 513.2,1399 515.3,1403.9 517.3,1408.2 519.3,1411.9 521.4,1415.1 523.4,1417.9 525.5,1420.4 527.5,1422.6 529.6,1424.5 532.6,1426.9 535.7,1429 538.8,1430.7 542.9,1432.6 548,1434.5 555.1,1436.4 567.4,1438.5 637.9,1442" stroke="#ff0000"/>
<path d="M433.5,1437.8 456,1437.8 457,1435.7 458,1431.8 459.1,1426.4 460.1,1419 461.1,1409 462.1,1396.1 463.1,1379.9 464.2,1360.8 467.2,1294.1 468.2,1273.3 469.3,1255.2 470.3,1240.3 471.3,1228.6 472.3,1219.6 473.4,1213.1 474.4,1208.5 475.4,1205.7 476.4,1204.8 477.4,1204.7 478.5,1205 479.5,1205.6 480.5,1206.6 481.5,1207.9 482.6,1209.8 483.6,1212.2 484.6,1215.3 485.6,1218.9 486.6,1223.2 487.7,1228.2 488.7,1233.7 490.7,1246.4 493.8,1268.5 499.9,1315.1 502,1329.3 504,1342.3 506.1,1354 508.1,1364.5 510.2,1373.6 512.2,1381.7 514.2,1388.7 516.3,1394.8 518.3,1400.1 520.4,1404.7 522.4,1408.7 524.5,1412.2 526.5,1415.2 528.5,1417.9 530.6,1420.2 532.6,1422.3 534.7,1424.1 537.7,1426.5 540.8,1428.4 544.9,1430.6 550,1432.7 556.1,1434.6 565.3,1436.6 585.8,1439 637.9,1441" stroke="#0000ff"/>
<path d="M433.5,1441.3 455,1441.3 456,1440.5 457,1438.8 458,1436.5 459.1,1433.3 460.1,1428.9 461.1,1422.9 462.1,1415 463.1,1404.6 464.2,1391.6 465.2,1375.7 466.2,1357.2 470.3,1273 471.3,1254.8 472.3,1239.3 473.4,1226.7 474.4,1216.7 475.4,1209 476.4,1203.3 477.4,1199.2 478.5,1196.8 479.5,1195.9 480.5,1195.8 481.5,1196.1 482.6,1196.8 483.6,1197.7 484.6,1199.1 485.6,1201.1 486.6,1203.6 487.7,1206.7 488.7,1210.5 489.7,1214.9 490.7,1220 491.8,1225.7 493.8,1238.8 496.9,1261.6 503,1309.6 505,1324.3 507.1,1337.8 509.1,1349.9 511.2,1360.7 513.2,1370.2 515.3,1378.6 517.3,1385.8 519.3,1392.1 521.4,1397.6 523.4,1402.4 525.5,1406.5 527.5,1410.2 529.6,1413.3 531.6,1416.1 533.7,1418.5 535.7,1420.7 537.7,1422.6 540.8,1425 543.9,1427 546.9,1428.7 551,1430.6 556.1,1432.5 563.3,1434.4 575.6,1436.6 636.9,1440 637.9,1440" stroke="#ff00ff"/>
<path d="M433.5,1439 458,1439 459.1,1438.7 460.1,1436.7 461.1,1434 462.1,1430.4 463.1,1425.6 464.2,1419.4 465.2,1411.5 466.2,1401.5 467.2,1389.4 468.2,1374.8 469.3,1358.1 473.4,1280.1 474.4,1261.8 475.4,1245.3 476.4,1231.1 477.4,1219.2 478.5,1209.5 479.5,1201.8 480.5,1195.8 481.5,1191.2 482.6,1187.9 483.6,1185.9 484.6,1185 485.6,1184.9 486.6,1185.2 487.7,1185.9 488.7,1186.9 489.7,1188.4 490.7,1190.3 491.8,1192.9 492.8,1196.1 493.8,1199.9 494.8,1204.4 495.8,1209.6 496.9,1215.5 497.9,1221.9 499.9,1236.3 508.1,1301.6 510.2,1316.8 512.2,1330.7 514.2,1343.3 516.3,1354.6 518.3,1364.5 520.4,1373.2 522.4,1380.7 524.5,1387.4 526.5,1393.1 528.5,1398.1 530.6,1402.5 532.6,1406.3 534.7,1409.6 536.7,1412.5 538.8,1415 540.8,1417.3 542.9,1419.3 545.9,1421.8 549,1424 552.1,1425.8 556.1,1427.8 561.2,1429.7 568.4,1431.8 579.6,1433.9 616.4,1436.9 637.9,1437.6" stroke="#808000"/>
<path d="M433.5,1442.5 456,1442.5 457,1442.3 458,1441.5 459.1,1440.5 460.1,1439.3 461.1,1437.5 462.1,1435.3 463.1,1432.4 464.2,1428.6 465.2,1423.7 466.2,1417.6 467.2,1409.8 468.2,1400.2 469.3,1388.7 470.3,1375.1 471.3,1359.6 473.4,1323.8 476.4,1267.5 477.4,1250.6 478.5,1235.6 479.5,1222.5 480.5,1211.6 481.5,1202.5 482.6,1195.2 483.6,1189.4 484.6,1184.8 485.6,1181.4 486.6,1179.1 487.7,1177.8 488.7,1177.5 489.7,1177.8 490.7,1178.5 491.8,1179.7 492.8,1181.3 493.8,1183.6 494.8,1186.4 495.8,1189.8 496.9,1193.9 497.9,1198.7 498.9,1204 499.9,1209.9 502,1223.2 511.2,1293.1 514.2,1314.5 516.3,1327.3 518.3,1339 520.4,1349.4 522.4,1358.8 524.5,1367 526.5,1374.3 528.5,1380.8 530.6,1386.4 532.6,1391.4 534.7,1395.9 536.7,1399.8 538.8,1403.2 540.8,1406.3 542.9,1409 544.9,1411.5 546.9,1413.6 550,1416.5 553.1,1418.9 556.1,1421 560.2,1423.3 565.3,1425.6 571.5,1427.8 580.7,1430.2 597,1432.8 636.9,1435.6 637.9,1435.6" stroke="#000080"/>
<path d="M433.5,1440.1 460.1,1440.1 461.1,1439.4 462.1,1437.9 463.1,1435.9 464.2,1433.3 465.2,1430.1 466.2,1425.9 467.2,1420.7 468.2,1414.2 469.3,1406.1 470.3,1396.4 471.3,1384.9 472.3,1371.6 473.4,1356.5 475.4,1322.2 478.5,1268.3 479.5,1251.9 480.5,1237 481.5,1223.9 482.6,1212.7 483.6,1203.2 484.6,1195.4 485.6,1189.1 486.6,1184 487.7,1180 488.7,1176.9 489.7,1174.8 490.7,1173.7 491.8,1173.5 492.8,1174 493.8,1175 494.8,1176.4 495.8,1178.5 496.9,1181.1 497.9,1184.3 498.9,1188.2 499.9,1192.7 501,1197.7 502,1203.4 504,1216 507.1,1237.6 513.2,1282.9 516.3,1303.8 518.3,1316.5 520.4,1328.2 522.4,1338.7 524.5,1348.2 526.5,1356.7 528.5,1364.3 530.6,1371.1 532.6,1377.1 534.7,1382.5 536.7,1387.3 538.8,1391.5 540.8,1395.3 542.9,1398.7 544.9,1401.7 546.9,1404.5 549,1406.9 552.1,1410.2 555.1,1412.9 558.2,1415.3 562.3,1418 566.4,1420.3 571.5,1422.6 578.6,1425.1 588.8,1427.8 607.2,1430.7 636.9,1433.1 637.9,1433.1" stroke="#800000"/>
<path d="M433.5,1437.8 463.1,1437.8 464.2,1435.9 465.2,1433.5 466.2,1430.5 467.2,1426.6 468.2,1421.8 469.3,1415.9 470.3,1408.6 471.3,1399.9 472.3,1389.5 473.4,1377.5 474.4,1363.7 476.4,1332 480.5,1262.9 481.5,1247.3 482.6,1233.2 483.6,1220.7 484.6,1209.8 485.6,1200.7 486.6,1193 487.7,1186.7 488.7,1181.6 489.7,1177.6 490.7,1174.4 491.8,1172 492.8,1170.6 493.8,1170.1 494.8,1170.4 495.8,1171.3 496.9,1172.8 497.9,1174.8 498.9,1177.5 499.9,1180.7 501,1184.6 502,1189.1 503,1194.2 504,1199.7 506.1,1212.2 516.3,1284 519.3,1303.6 521.4,1315.5 523.4,1326.4 525.5,1336.3 527.5,1345.2 529.6,1353.3 531.6,1360.5 533.7,1367 535.7,1372.8 537.7,1378 539.8,1382.7 541.8,1386.9 543.9,1390.7 545.9,1394.1 548,1397.1 550,1399.9 553.1,1403.6 556.1,1406.7 559.2,1409.5 562.3,1411.9 566.4,1414.6 570.4,1417 575.6,1419.4 582.7,1422 591.9,1424.6 607.2,1427.5 635.9,1430.5 637.9,1430.6" stroke="#008000"/>
<path d="M433.5,1441.3 460.1,1441.3 461.1,1441.2 462.1,1440.4 463.1,1439.2 464.2,1437.8 465.2,1436 466.2,1433.7 467.2,1430.8 468.2,1427.2 469.3,1422.8 470.3,1417.4 471.3,1410.8 472.3,1402.9 473.4,1393.5 474.4,1382.6 475.4,1370.2 476.4,1356.2 478.5,1324.8 481.5,1274.3 483.6,1243.5 484.6,1230.1 485.6,1218.1 486.6,1207.7 487.7,1198.9 488.7,1191.4 489.7,1185.2 490.7,1180.2 491.8,1176 492.8,1172.8 493.8,1170.2 494.8,1168.5 495.8,1167.7 496.9,1167.7 497.9,1168.5 498.9,1169.9 499.9,1171.9 501,1174.6 502,1177.8 503,1181.7 504,1186.2 505,1191.1 507.1,1202.5 509.1,1215.4 518.3,1278.6 521.4,1297.7 523.4,1309.3 525.5,1320 527.5,1329.8 529.6,1338.7 531.6,1346.8 533.7,1354 535.7,1360.6 537.7,1366.5 539.8,1371.8 541.8,1376.6 543.9,1381 545.9,1384.9 548,1388.4 550,1391.6 553.1,1395.9 556.1,1399.6 559.2,1402.8 562.3,1405.7 566.4,1408.9 570.4,1411.6 575.6,1414.5 581.7,1417.3 589.9,1420.2 601.1,1423.1 621.5,1426.5 636.9,1428.1 637.9,1428.1" stroke="#008b8b"/>
<path d="M433.5,1439 464.2,1439 465.2,1438.3 466.2,1436.7 467.2,1434.7 468.2,1432.3 469.3,1429.3 470.3,1425.6 471.3,1421.2 472.3,1415.7 473.4,1409.2 474.4,1401.5 475.4,1392.5 476.4,1382.1 477.4,1370.4 478.5,1357.3 480.5,1327.7 484.6,1264.2 486.6,1235.9 487.7,1223.6 488.7,1212.7 489.7,1203.2 490.7,1195 491.8,1188.1 492.8,1182.3 493.8,1177.4 494.8,1173.5 495.8,1170.2 496.9,1167.7 497.9,1165.9 498.9,1164.8 499.9,1164.7 501,1165.4 502,1166.8 503,1169 504,1171.8 505,1175.3 506.1,1179.3 507.1,1183.9 508.1,1189 510.2,1200.4 521.4,1273.2 524.5,1291.2 527.5,1307.5 529.6,1317.3 531.6,1326.3 533.7,1334.5 535.7,1342 537.7,1348.9 539.8,1355.1 541.8,1360.7 543.9,1365.8 545.9,1370.4 548,1374.7 550,1378.5 553.1,1383.7 556.1,1388.2 559.2,1392.2 562.3,1395.7 565.3,1398.8 569.4,1402.4 573.5,1405.4 578.6,1408.7 584.8,1411.9 591.9,1414.9 601.1,1417.9 615.4,1421.3 635.9,1424.5 637.9,1424.6" stroke="#1e8484"/>
<path d="M433.5,1442.5 460.1,1442.5 461.1,1442.4 462.1,1441.9 463.1,1441.3 464.2,1440.6 465.2,1439.6 466.2,1438.4 467.2,1437 468.2,1435.2 469.3,1433 470.3,1430.3 471.3,1427 472.3,1423 473.4,1418.2 474.4,1412.6 475.4,1405.8 476.4,1397.9 477.4,1388.8 478.5,1378.5 479.5,1366.8 480.5,1354 482.6,1325.4 486.6,1264.3 488.7,1236.8 489.7,1224.7 490.7,1213.9 491.8,1204.3 492.8,1196 493.8,1188.8 494.8,1182.7 495.8,1177.6 496.9,1173.4 497.9,1169.8 498.9,1167 499.9,1164.7 501,1163.1 502,1162.2 503,1162.3 504,1163.3 505,1165.1 506.1,1167.7 507.1,1170.9 508.1,1174.8 509.1,1179.1 510.2,1184 512.2,1195 523.4,1265.1 526.5,1282.6 529.6,1298.5 532.6,1312.7 534.7,1321.2 536.7,1329 538.8,1336.2 540.8,1342.7 542.9,1348.8 544.9,1354.2 546.9,1359.2 549,1363.8 552.1,1370 555.1,1375.4 558.2,1380.2 561.2,1384.5 564.3,1388.2 567.4,1391.6 571.5,1395.5 575.6,1398.9 580.7,1402.5 585.8,1405.6 591.9,1408.6 600.1,1412 611.3,1415.5 628.7,1419.3 636.9,1420.6 637.9,1420.7" stroke="#00009c"/>
<path d="M433.5,1440.1 467.2,1440.1 468.2,1439.5 469.3,1438.4 470.3,1437.1 471.3,1435.6 472.3,1433.8 473.4,1431.6 474.4,1429 475.4,1425.9 476.4,1422.2 477.4,1417.9 478.5,1412.9 479.5,1407.1 480.5,1400.4 481.5,1392.7 482.6,1384.1 483.6,1374.4 484.6,1363.7 486.6,1339.6 492.8,1257.3 494.8,1232.4 495.8,1221.2 496.9,1210.9 497.9,1201.7 498.9,1193.5 499.9,1186.3 501,1180 502,1174.5 503,1169.8 504,1165.8 505,1162.4 506.1,1159.6 507.1,1157.2 508.1,1155.3 509.1,1153.8 510.2,1152.9 511.2,1152.8 512.2,1153.4 513.2,1154.7 514.2,1156.8 515.3,1159.5 516.3,1162.8 517.3,1166.6 518.3,1170.9 520.4,1180.5 523.4,1197.1 532.6,1250.1 535.7,1266.3 538.8,1281.1 541.8,1294.5 544.9,1306.4 548,1317 551,1326.4 554.1,1334.7 557.2,1342.1 560.2,1348.5 563.3,1354.3 566.4,1359.4 569.4,1364 572.5,1368 575.6,1371.7 579.6,1376 583.7,1379.7 587.8,1382.9 592.9,1386.5 599.1,1390 606.2,1393.5 615.4,1397 628.7,1400.9 635.9,1402.5 637.9,1402.8" stroke="#ff8000"/>
<path d="M433.5,1437.8 471.3,1437.8 472.3,1437.5 473.4,1436.2 474.4,1434.6 475.4,1432.8 476.4,1430.6 477.4,1428.1 478.5,1425.1 479.5,1421.7 480.5,1417.6 481.5,1413 482.6,1407.7 483.6,1401.7 484.6,1394.8 485.6,1387.2 486.6,1378.6 487.7,1369.2 489.7,1347.9 491.8,1323.9 496.9,1259.2 498.9,1235.3 501,1214.1 502,1204.8 503,1196.3 504,1188.7 505,1181.9 506.1,1175.9 507.1,1170.7 508.1,1166.1 509.1,1162.2 510.2,1158.8 511.2,1155.8 512.2,1153.3 513.2,1151.2 514.2,1149.5 515.3,1148.1 516.3,1147.2 517.3,1146.8 518.3,1147.1 519.3,1148.1 520.4,1149.7 521.4,1151.9 522.4,1154.6 523.4,1157.8 524.5,1161.4 526.5,1169.7 528.5,1179.1 539.8,1236.5 543.9,1255.7 546.9,1268.8 550,1280.7 553.1,1291.5 556.1,1301.1 559.2,1309.7 562.3,1317.4 565.3,1324.3 568.4,1330.4 571.5,1335.9 574.5,1340.8 577.6,1345.2 580.7,1349.2 584.8,1353.9 588.8,1358.1 592.9,1361.7 598,1365.6 604.2,1369.7 611.3,1373.6 619.5,1377.2 630.7,1381.1 635.9,1382.6 637.9,1383" stroke="#8000ff"/>
<path d="M433.5,1441.3 469.3,1441.3 470.3,1440.9 471.3,1440.3 472.3,1439.6 473.4,1438.7 474.4,1437.7 475.4,1436.5 476.4,1435.1 477.4,1433.6 478.5,1431.7 479.5,1429.5 480.5,1427 481.5,1424.2 482.6,1420.9 483.6,1417.1 484.6,1412.7 485.6,1407.8 486.6,1402.3 487.7,1396.1 488.7,1389.1 489.7,1381.4 490.7,1373 492.8,1353.9 494.8,1332.3 502,1248.2 504,1226.4 506.1,1207.2 507.1,1198.6 508.1,1190.9 509.1,1183.8 510.2,1177.5 511.2,1171.9 512.2,1166.9 513.2,1162.5 514.2,1158.6 515.3,1155.2 516.3,1152.3 517.3,1149.8 518.3,1147.6 519.3,1145.7 520.4,1144.1 521.4,1142.8 522.4,1141.9 523.4,1141.4 524.5,1141.5 525.5,1142.1 526.5,1143.3 527.5,1145 528.5,1147.2 529.6,1149.9 530.6,1152.9 531.6,1156.3 533.7,1163.9 536.7,1176.7 546.9,1223.2 551,1240.4 554.1,1252.3 557.2,1263.2 560.2,1273.2 563.3,1282.3 566.4,1290.4 569.4,1297.8 572.5,1304.4 575.6,1310.4 578.6,1315.9 581.7,1320.8 584.8,1325.2 588.8,1330.5 592.9,1335.2 597,1339.3 602.1,1343.8 607.2,1347.7 613.4,1351.7 620.5,1355.7 629.7,1359.9 634.8,1361.8 636.9,1362.4 637.9,1362.6" stroke="#ff0080"/>
<path d="M433.5,1439 474.4,1439 475.4,1438.7 476.4,1437.8 477.4,1436.7 478.5,1435.5 479.5,1434.1 480.5,1432.4 481.5,1430.5 482.6,1428.4 483.6,1425.9 484.6,1423.1 485.6,1419.9 486.6,1416.3 487.7,1412.2 488.7,1407.5 489.7,1402.4 490.7,1396.6 491.8,1390.2 492.8,1383.2 493.8,1375.5 495.8,1358.2 497.9,1338.5 506.1,1248.6 508.1,1227.6 510.2,1208.9 511.2,1200.4 512.2,1192.6 513.2,1185.5 514.2,1179 515.3,1173.1 516.3,1167.8 517.3,1163.1 518.3,1158.9 519.3,1155.1 520.4,1151.9 521.4,1149 522.4,1146.4 523.4,1144.2 524.5,1142.3 525.5,1140.6 526.5,1139.2 527.5,1138 528.5,1137.1 529.6,1136.6 530.6,1136.4 531.6,1136.8 532.6,1137.7 533.7,1139 534.7,1140.8 535.7,1143 536.7,1145.5 537.7,1148.4 539.8,1154.9 542.9,1166 555.1,1215.2 559.2,1230.4 563.3,1244.4 567.4,1256.9 570.4,1265.5 573.5,1273.3 576.6,1280.4 579.6,1286.8 582.7,1292.7 586.8,1299.8 590.9,1306.1 595,1311.7 599.1,1316.6 603.2,1321 608.3,1325.9 613.4,1330.2 619.5,1334.6 626.7,1339 632.8,1342.2 635.9,1343.6 637.9,1344.2" stroke="#0b8a3c"/>
<path d="M433.5,1442.5 469.3,1442.5 470.3,1442.3 472.3,1441.6 474.4,1440.7 476.4,1439.4 477.4,1438.7 478.5,1437.8 479.5,1436.8 480.5,1435.7 481.5,1434.4 482.6,1432.9 483.6,1431.3 484.6,1429.4 485.6,1427.2 486.6,1424.7 487.7,1422 488.7,1418.8 489.7,1415.3 490.7,1411.4 491.8,1407 492.8,1402.2 493.8,1396.8 494.8,1390.9 495.8,1384.4 497.9,1369.7 499.9,1352.8 502,1333.8 510.2,1248.7 512.2,1228.8 514.2,1210.7 516.3,1194.7 517.3,1187.6 518.3,1181 519.3,1175.1 520.4,1169.6 521.4,1164.7 522.4,1160.3 523.4,1156.3 524.5,1152.7 525.5,1149.6 526.5,1146.8 527.5,1144.3 528.5,1142.1 529.6,1140.2 530.6,1138.5 531.6,1137 532.6,1135.7 533.7,1134.6 534.7,1133.8 535.7,1133.2 536.7,1133 537.7,1133.1 538.8,1133.7 539.8,1134.7 540.8,1136.1 541.8,1137.9 542.9,1140 543.9,1142.4 545.9,1147.9 548,1154.1 553.1,1171.4 563.3,1207.5 568.4,1224.1 572.5,1236.2 576.6,1247.3 579.6,1254.8 583.7,1263.9 587.8,1272.2 591.9,1279.5 596,1286.1 600.1,1292 604.2,1297.4 609.3,1303.3 614.4,1308.5 619.5,1313.1 625.6,1317.9 631.8,1322.1 634.8,1323.9 636.9,1324.9 637.9,1325.2" stroke="#96c83c"/>
<path d="M433.5,1440.1 476.4,1440.1 477.4,1440 479.5,1438.6 480.5,1437.8 481.5,1436.9 482.6,1435.8 483.6,1434.7 484.6,1433.3 485.6,1431.8 486.6,1430.1 487.7,1428.2 488.7,1426 489.7,1423.6 490.7,1420.8 491.8,1417.8 492.8,1414.4 493.8,1410.6 494.8,1406.5 495.8,1401.9 496.9,1396.8 497.9,1391.3 498.9,1385.2 501,1371.7 503,1356.1 505,1338.7 515.3,1239.5 517.3,1221.4 519.3,1205 521.4,1190.5 522.4,1184.1 523.4,1178.1 524.5,1172.6 525.5,1167.6 526.5,1163.1 527.5,1159 528.5,1155.3 529.6,1151.9 530.6,1148.9 531.6,1146.2 532.6,1143.8 533.7,1141.7 534.7,1139.8 535.7,1138.1 536.7,1136.6 537.7,1135.3 538.8,1134.2 539.8,1133.2 540.8,1132.4 541.8,1131.8 542.9,1131.5 543.9,1131.5 544.9,1131.9 545.9,1132.6 546.9,1133.7 548,1135.2 549,1136.9 550,1138.9 552.1,1143.5 554.1,1148.7 558.2,1160.4 571.5,1201.3 577.6,1218.7 582.7,1231.7 586.8,1241.2 590.9,1249.8 595,1257.6 599.1,1264.7 603.2,1271.2 608.3,1278.5 613.4,1285 618.5,1290.7 623.6,1295.8 629.7,1301.2 633.8,1304.4 635.9,1305.8 636.9,1306.3 637.9,1306.7" stroke="#f2be5a"/>
<path d="M433.5,1437.8 482.6,1437.8 483.6,1436.9 484.6,1435.9 485.6,1434.8 486.6,1433.6 487.7,1432.2 488.7,1430.6 489.7,1428.9 490.7,1426.9 491.8,1424.8 492.8,1422.3 493.8,1419.7 494.8,1416.7 495.8,1413.4 496.9,1409.7 497.9,1405.7 498.9,1401.4 499.9,1396.6 501,1391.4 503,1379.6 505,1366.1 507.1,1350.8 510.2,1325.1 518.3,1249.3 521.4,1223.1 523.4,1207.4 525.5,1193.5 527.5,1181.3 528.5,1175.9 529.6,1170.9 530.6,1166.3 531.6,1162.1 532.6,1158.3 533.7,1154.9 534.7,1151.7 535.7,1148.9 536.7,1146.4 537.7,1144.1 538.8,1142 539.8,1140.2 540.8,1138.5 541.8,1137.1 542.9,1135.8 543.9,1134.6 544.9,1133.6 545.9,1132.7 546.9,1132 548,1131.4 549,1131.1 550,1131 551,1131.2 552.1,1131.7 553.1,1132.6 554.1,1133.7 555.1,1135.1 556.1,1136.7 558.2,1140.6 560.2,1145 563.3,1152.4 580.7,1198.7 586.8,1213.8 591.9,1225.2 597,1235.5 602.1,1244.9 607.2,1253.4 612.4,1261 617.5,1267.8 622.6,1274 628.7,1280.6 632.8,1284.6 634.8,1286.3 635.9,1287 636.9,1287.7 637.9,1288.2" stroke="#f07070"/>
<path d="M433.5,1441.3 477.4,1441.3 479.5,1440.5 481.5,1439.4 483.6,1438.1 485.6,1436.4 486.6,1435.4 487.7,1434.3 488.7,1433.1 489.7,1431.7 490.7,1430.2 491.8,1428.5 492.8,1426.6 493.8,1424.5 494.8,1422.1 495.8,1419.5 496.9,1416.7 497.9,1413.5 498.9,1410.1 499.9,1406.3 501,1402.2 502,1397.7 504,1387.5 506.1,1375.7 508.1,1362.3 510.2,1347.4 513.2,1322.4 522.4,1241.2 524.5,1224.8 526.5,1209.6 528.5,1196 530.6,1184 532.6,1173.7 533.7,1169.1 534.7,1164.9 535.7,1161 536.7,1157.5 537.7,1154.3 538.8,1151.4 539.8,1148.7 540.8,1146.3 541.8,1144.1 542.9,1142.2 543.9,1140.4 544.9,1138.9 545.9,1137.5 546.9,1136.2 548,1135.1 549,1134 550,1133.2 551,1132.4 552.1,1131.8 553.1,1131.3 554.1,1131 555.1,1131 556.1,1131.2 557.2,1131.7 558.2,1132.5 559.2,1133.5 560.2,1134.8 561.2,1136.2 563.3,1139.6 565.3,1143.5 569.4,1152.2 587.8,1195.2 595,1210.5 601.1,1222.4 607.2,1233.1 613.4,1242.7 619.5,1251.4 625.6,1259.1 630.7,1265 633.8,1268.1 635.9,1269.9 636.9,1270.6 637.9,1271.2" stroke="#f4688c"/>
<path d="M433.5,1439 483.6,1439 484.6,1438.4 486.6,1436.9 488.7,1435 489.7,1433.9 490.7,1432.7 491.8,1431.3 492.8,1429.8 493.8,1428.1 494.8,1426.2 495.8,1424.2 496.9,1421.9 497.9,1419.4 498.9,1416.7 499.9,1413.7 501,1410.4 502,1406.8 503,1402.9 505,1394 507.1,1383.8 509.1,1372 511.2,1358.8 513.2,1344.1 516.3,1320 524.5,1250.7 527.5,1226.6 529.6,1212.1 531.6,1198.9 533.7,1187.2 535.7,1177 537.7,1168.2 538.8,1164.4 539.8,1160.8 540.8,1157.5 541.8,1154.6 542.9,1151.8 543.9,1149.4 544.9,1147.1 545.9,1145.1 546.9,1143.3 548,1141.6 549,1140.1 550,1138.7 551,1137.5 552.1,1136.4 554.1,1134.6 555.1,1133.8 556.1,1133.1 557.2,1132.6 558.2,1132.2 559.2,1132 560.2,1132 561.2,1132.2 562.3,1132.7 563.3,1133.4 564.3,1134.4 565.3,1135.5 566.4,1136.8 568.4,1139.9 571.5,1145.2 577.6,1157.3 595,1193.3 602.1,1206.9 609.3,1219.3 616.4,1230.4 623.6,1240.4 629.7,1248.2 632.8,1251.8 634.8,1253.9 635.9,1254.8 636.9,1255.5 637.9,1256.2" stroke="#1e96c8"/>
<path d="M680.2,1442.5 699.5,1442.5 700.6,1441.5 701.6,1437.9 702.6,1430.7 703.6,1417.1 704.6,1395.1 706.7,1337.7 707.7,1315.7 708.7,1302.2 709.7,1294.9 710.7,1291.7 711.8,1291.2 712.8,1291.3 713.8,1291.5 714.8,1291.8 715.8,1292.4 716.8,1293.3 717.9,1294.5 718.9,1296.1 719.9,1298 720.9,1300.4 721.9,1303.2 723,1306.4 724,1310 726,1318.3 729.1,1332.7 735.2,1362.9 737.2,1372.1 739.2,1380.5 741.3,1388.1 743.3,1394.8 745.4,1400.7 747.4,1405.8 749.4,1410.3 751.5,1414.3 753.5,1417.7 755.5,1420.6 757.6,1423.2 759.6,1425.4 761.6,1427.4 763.7,1429.1 766.7,1431.3 769.8,1433.1 773.9,1435 778.9,1436.9 786.1,1438.8 798.3,1440.8 883.8,1444" stroke="#000000"/>
<path d="M680.2,1440.1 701.6,1440.1 702.6,1440.1 703.6,1436.7 704.6,1431 705.6,1421.7 706.7,1407.9 707.7,1389 709.7,1343.8 710.7,1323.8 711.8,1308.6 712.8,1298.1 713.8,1291.6 714.8,1287.7 715.8,1285.7 716.8,1285.3 717.9,1285.3 718.9,1285.5 719.9,1285.9 720.9,1286.5 721.9,1287.4 723,1288.6 724,1290.2 725,1292.2 726,1294.6 727,1297.4 728,1300.7 729.1,1304.3 731.1,1312.7 734.2,1327.4 740.3,1358.4 742.3,1367.9 744.3,1376.6 746.4,1384.4 748.4,1391.4 750.4,1397.5 752.5,1402.9 754.5,1407.6 756.5,1411.7 758.6,1415.3 760.6,1418.4 762.7,1421.1 764.7,1423.5 766.7,1425.5 768.8,1427.3 771.8,1429.6 774.9,1431.5 777.9,1433.1 782,1434.8 787.1,1436.5 795.2,1438.4 811.5,1440.6 883.8,1443" stroke="#ff0000"/>
<path d="M680.2,1437.8 704.6,1437.8 705.6,1434 706.7,1428 707.7,1419.4 708.7,1407.3 709.7,1391.8 712.8,1335 713.8,1318.8 714.8,1306 715.8,1296.6 716.8,1290.2 717.9,1285.9 718.9,1283.2 719.9,1281.7 720.9,1281.3 721.9,1281.4 723,1281.6 724,1281.9 725,1282.6 726,1283.5 727,1284.7 728,1286.3 729.1,1288.3 730.1,1290.7 731.1,1293.5 732.1,1296.8 733.1,1300.5 734.2,1304.5 736.2,1313.6 744.3,1355.1 747.4,1369.3 749.4,1377.8 751.5,1385.3 753.5,1392.1 755.5,1398 757.6,1403.2 759.6,1407.7 761.6,1411.6 763.7,1415.1 765.7,1418 767.7,1420.6 769.8,1422.9 771.8,1424.9 773.9,1426.6 776.9,1428.9 780,1430.7 784,1432.7 789.1,1434.7 795.2,1436.4 805.4,1438.3 840,1441.1 883.8,1442" stroke="#0000ff"/>
<path d="M680.2,1441.3 703.6,1441.3 704.6,1440.2 705.6,1438.1 706.7,1434.9 707.7,1430.2 708.7,1423.7 709.7,1414.8 710.7,1403.1 711.8,1388.8 714.8,1337.9 715.8,1322.5 716.8,1309.6 717.9,1299.4 718.9,1291.8 719.9,1286.3 720.9,1282.5 721.9,1279.9 723,1278.2 724,1277.5 725,1277.4 726,1277.5 727,1277.8 728,1278.3 729.1,1279 730.1,1280.1 731.1,1281.5 732.1,1283.3 733.1,1285.5 734.2,1288.2 735.2,1291.2 736.2,1294.7 737.2,1298.6 739.2,1307.5 742.3,1322.6 748.4,1354.3 750.4,1363.9 752.5,1372.8 754.5,1380.7 756.5,1387.8 758.6,1394 760.6,1399.5 762.7,1404.3 764.7,1408.5 766.7,1412.1 768.8,1415.2 770.8,1418 772.8,1420.4 774.9,1422.5 776.9,1424.4 780,1426.7 783,1428.7 786.1,1430.3 790.1,1432.1 795.2,1433.8 803.4,1435.8 818.6,1438 883.8,1440.5" stroke="#ff00ff"/>
<path d="M680.2,1439 706.7,1439 707.7,1437.5 708.7,1434.7 709.7,1431 710.7,1426.1 711.8,1419.6 712.8,1411.4 713.8,1401.2 714.8,1389.2 718.9,1331.9 719.9,1318.8 720.9,1307.4 721.9,1297.9 723,1290.3 724,1284.4 725,1279.9 726,1276.5 727,1274.1 728,1272.3 729.1,1271.1 730.1,1270.6 731.1,1270.4 732.1,1270.6 733.1,1270.8 734.2,1271.3 735.2,1272.1 736.2,1273.1 737.2,1274.4 738.2,1276.2 739.2,1278.3 740.3,1280.8 741.3,1283.8 742.3,1287.2 743.3,1291 745.4,1299.6 748.4,1314.4 754.5,1346 757.6,1360.3 759.6,1368.8 761.6,1376.6 763.7,1383.4 765.7,1389.5 767.7,1394.8 769.8,1399.5 771.8,1403.6 773.9,1407.2 775.9,1410.3 777.9,1413 780,1415.4 782,1417.5 784,1419.3 787.1,1421.7 790.1,1423.6 793.2,1425.3 797.3,1427.1 802.4,1428.8 809.5,1430.6 822.7,1432.7 883.8,1435.6" stroke="#808000"/>
<path d="M680.2,1442.5 703.6,1442.5 704.6,1442.5 705.6,1441.7 706.7,1440.8 707.7,1439.4 708.7,1437.7 709.7,1435.3 710.7,1432.2 711.8,1428.2 712.8,1423.1 713.8,1416.6 714.8,1408.6 715.8,1399.1 716.8,1388 718.9,1362.3 720.9,1335 721.9,1322.2 723,1310.6 724,1300.5 725,1291.9 726,1284.9 727,1279.3 728,1274.9 729.1,1271.5 730.1,1268.9 731.1,1267 732.1,1265.5 733.1,1264.6 734.2,1264.1 735.2,1264 736.2,1264.2 737.2,1264.6 738.2,1265.3 739.2,1266.3 740.3,1267.6 741.3,1269.2 742.3,1271.3 743.3,1273.7 744.3,1276.5 745.4,1279.7 746.4,1283.2 748.4,1291.2 751.5,1305.1 758.6,1339.6 761.6,1353 763.7,1361.1 765.7,1368.5 767.7,1375.1 769.8,1381.1 771.8,1386.4 773.9,1391.1 775.9,1395.3 777.9,1399 780,1402.3 782,1405.2 784,1407.8 786.1,1410.1 788.1,1412.1 791.2,1414.8 794.2,1417 797.3,1419 801.3,1421.1 806.4,1423.2 812.5,1425.2 821.7,1427.3 840,1429.8 883.8,1432.1" stroke="#000080"/>
<path d="M680.2,1440.1 707.7,1440.1 708.7,1439.2 709.7,1437.5 710.7,1435.4 711.8,1432.6 712.8,1429.1 713.8,1424.6 714.8,1419.1 715.8,1412.4 716.8,1404.3 717.9,1394.9 718.9,1384.2 724,1322.4 725,1311.3 726,1301.3 727,1292.7 728,1285.4 729.1,1279.4 730.1,1274.5 731.1,1270.6 732.1,1267.5 733.1,1265.1 734.2,1263.3 735.2,1261.9 736.2,1260.9 737.2,1260.3 738.2,1260.1 739.2,1260.2 740.3,1260.6 741.3,1261.3 742.3,1262.3 743.3,1263.6 744.3,1265.2 745.4,1267.2 746.4,1269.6 747.4,1272.4 748.4,1275.4 749.4,1278.8 751.5,1286.4 754.5,1299.4 761.6,1331.7 764.7,1344.3 766.7,1352.1 768.8,1359.2 770.8,1365.7 772.8,1371.5 774.9,1376.8 776.9,1381.6 778.9,1385.8 781,1389.6 783,1393.1 785.1,1396.1 787.1,1398.9 789.1,1401.3 792.2,1404.6 795.2,1407.3 798.3,1409.7 802.4,1412.3 806.4,1414.5 811.5,1416.8 818.6,1419.2 828.8,1421.6 848.2,1424.4 883.8,1426.7" stroke="#800000"/>
<path d="M680.2,1437.8 709.7,1437.8 710.7,1437.4 711.8,1435.3 712.8,1432.8 713.8,1429.6 714.8,1425.7 715.8,1420.9 716.8,1415 717.9,1408.1 718.9,1400 719.9,1390.7 720.9,1380.4 726,1322.1 727,1311.4 728,1301.6 729.1,1293 730.1,1285.6 731.1,1279.3 732.1,1274.1 733.1,1269.8 734.2,1266.3 735.2,1263.5 736.2,1261.3 737.2,1259.5 738.2,1258.2 739.2,1257.1 740.3,1256.5 741.3,1256.1 742.3,1256.2 743.3,1256.5 744.3,1257.2 745.4,1258.2 746.4,1259.4 747.4,1261.1 748.4,1263.1 749.4,1265.4 750.4,1268 751.5,1271 753.5,1277.8 755.5,1285.6 765.7,1328.7 768.8,1340.5 771.8,1351.2 773.9,1357.5 775.9,1363.3 777.9,1368.6 780,1373.4 782,1377.8 784,1381.7 786.1,1385.2 788.1,1388.4 790.1,1391.3 793.2,1395.1 796.3,1398.4 799.3,1401.2 802.4,1403.6 806.4,1406.4 810.5,1408.8 815.6,1411.2 821.7,1413.5 830.9,1416.1 846.1,1418.9 881.8,1422.1 883.8,1422.2" stroke="#008000"/>
<path d="M680.2,1441.3 707.7,1441.3 708.7,1440.8 709.7,1439.8 710.7,1438.5 711.8,1436.9 712.8,1434.9 713.8,1432.5 714.8,1429.5 715.8,1425.8 716.8,1421.3 717.9,1415.9 718.9,1409.6 719.9,1402.2 720.9,1393.8 721.9,1384.4 724,1363.2 728,1318.2 729.1,1308.1 730.1,1298.9 731.1,1290.7 732.1,1283.5 733.1,1277.4 734.2,1272.2 735.2,1267.8 736.2,1264.3 737.2,1261.4 738.2,1259 739.2,1257.1 740.3,1255.6 741.3,1254.4 742.3,1253.5 743.3,1252.9 744.3,1252.6 745.4,1252.7 746.4,1253.2 747.4,1253.9 748.4,1255 749.4,1256.4 750.4,1258.2 751.5,1260.3 752.5,1262.7 753.5,1265.4 754.5,1268.4 756.5,1275.2 759.6,1286.8 767.7,1320.1 770.8,1331.7 773.9,1342.2 776.9,1351.6 778.9,1357.2 781,1362.3 783,1367 785.1,1371.3 787.1,1375.2 789.1,1378.7 791.2,1381.9 794.2,1386.2 797.3,1389.9 800.3,1393.1 803.4,1395.9 806.4,1398.4 810.5,1401.2 814.6,1403.5 819.7,1406 826.8,1408.8 836,1411.4 851.2,1414.4 881.8,1417.7 883.8,1417.8" stroke="#008b8b"/>
<path d="M680.2,1439 710.7,1439 711.8,1438.5 712.8,1437.1 713.8,1435.4 714.8,1433.2 715.8,1430.7 716.8,1427.5 717.9,1423.8 718.9,1419.4 719.9,1414.2 720.9,1408.1 721.9,1401.2 723,1393.4 724,1384.8 726,1365.3 730.1,1323.2 732.1,1304 733.1,1295.5 734.2,1287.8 735.2,1281.1 736.2,1275.2 737.2,1270.1 738.2,1265.8 739.2,1262.2 740.3,1259.2 741.3,1256.7 742.3,1254.7 743.3,1253 744.3,1251.6 745.4,1250.5 746.4,1249.6 747.4,1249 748.4,1248.7 749.4,1248.8 750.4,1249.2 751.5,1249.9 752.5,1251 753.5,1252.5 754.5,1254.3 755.5,1256.4 756.5,1258.8 757.6,1261.4 759.6,1267.5 761.6,1274.3 772.8,1316.2 775.9,1326.7 778.9,1336.2 782,1344.8 785.1,1352.5 788.1,1359.2 791.2,1365.2 794.2,1370.4 797.3,1375 800.3,1379 803.4,1382.6 806.4,1385.7 809.5,1388.5 813.6,1391.8 817.6,1394.5 822.7,1397.4 828.8,1400.3 837,1403.4 848.2,1406.5 867.5,1410 882.8,1411.7 883.8,1411.8" stroke="#1e8484"/>
<path d="M680.2,1442.5 706.7,1442.5 707.7,1442.2 708.7,1441.7 709.7,1441.1 710.7,1440.4 711.8,1439.4 712.8,1438.3 713.8,1436.9 714.8,1435.3 715.8,1433.3 716.8,1430.9 717.9,1428.1 718.9,1424.7 719.9,1420.8 720.9,1416.1 721.9,1410.8 723,1404.7 724,1397.8 725,1390.2 727,1372.8 733.1,1313.8 735.2,1296.6 736.2,1289 737.2,1282.2 738.2,1276.1 739.2,1270.9 740.3,1266.3 741.3,1262.4 742.3,1259.1 743.3,1256.2 744.3,1253.9 745.4,1251.9 746.4,1250.3 747.4,1249 748.4,1247.9 749.4,1247 750.4,1246.3 751.5,1245.8 752.5,1245.7 753.5,1245.9 754.5,1246.5 755.5,1247.5 756.5,1248.8 757.6,1250.4 758.6,1252.3 759.6,1254.5 760.6,1257 762.7,1262.5 765.7,1272 775.9,1306.4 780,1318.9 783,1327.4 786.1,1335.1 789.1,1342 792.2,1348.2 795.2,1353.7 798.3,1358.5 801.3,1362.9 804.4,1366.7 807.5,1370.1 811.5,1374.1 815.6,1377.6 819.7,1380.6 824.8,1383.8 830.9,1387 838,1390 848.2,1393.3 863.4,1396.9 881.8,1399.7 883.8,1399.9" stroke="#00009c"/>
<path d="M680.2,1440.1 711.8,1440.1 712.8,1439.8 713.8,1438.9 714.8,1437.9 715.8,1436.6 716.8,1435.2 717.9,1433.4 718.9,1431.4 719.9,1429 720.9,1426.3 721.9,1423.1 723,1419.4 724,1415.3 725,1410.5 726,1405.2 727,1399.2 728,1392.7 730.1,1377.8 733.1,1352.1 737.2,1315.9 739.2,1299.3 741.3,1284.7 742.3,1278.3 743.3,1272.5 744.3,1267.3 745.4,1262.7 746.4,1258.7 747.4,1255.2 748.4,1252.1 749.4,1249.4 750.4,1247.2 751.5,1245.2 752.5,1243.6 753.5,1242.1 754.5,1241 755.5,1239.9 756.5,1239.1 757.6,1238.4 758.6,1237.9 759.6,1237.5 760.6,1237.3 761.6,1237.4 762.7,1237.7 763.7,1238.3 764.7,1239 765.7,1240 766.7,1241.2 767.7,1242.6 769.8,1245.8 771.8,1249.5 774.9,1255.8 788.1,1286.1 792.2,1294.6 796.3,1302.3 800.3,1309.2 803.4,1313.9 807.5,1319.4 811.5,1324.3 815.6,1328.6 819.7,1332.3 824.8,1336.4 829.8,1339.8 836,1343.3 843.1,1346.7 852.2,1350.2 864.5,1353.6 880.7,1357 883.8,1357.3" stroke="#ff8000"/>
<path d="M680.2,1437.8 715.8,1437.8 716.8,1437.4 717.9,1436.2 718.9,1434.9 719.9,1433.3 720.9,1431.5 721.9,1429.4 723,1427.1 724,1424.4 725,1421.3 726,1417.8 727,1413.9 728,1409.6 729.1,1404.8 730.1,1399.4 731.1,1393.6 733.1,1380.6 735.2,1365.8 742.3,1308.7 744.3,1293.8 746.4,1280.5 747.4,1274.6 748.4,1269.2 749.4,1264.3 750.4,1259.8 751.5,1255.9 752.5,1252.3 753.5,1249.2 754.5,1246.4 755.5,1244 756.5,1241.8 757.6,1240 758.6,1238.4 759.6,1237 760.6,1235.7 761.6,1234.7 762.7,1233.8 763.7,1233 764.7,1232.4 765.7,1231.8 766.7,1231.4 767.7,1231.1 768.8,1230.9 769.8,1230.9 770.8,1231.1 771.8,1231.4 772.8,1231.9 773.9,1232.5 774.9,1233.2 776.9,1235.1 778.9,1237.2 781,1239.7 785.1,1245.5 799.3,1267.5 805.4,1276.1 809.5,1281.3 814.6,1287 819.7,1292.1 824.8,1296.5 829.8,1300.4 836,1304.3 843.1,1308.2 851.2,1311.8 861.4,1315.4 876.7,1319.4 881.8,1320.4 883.8,1320.7" stroke="#8000ff"/>
<path d="M680.2,1441.3 711.8,1441.3 712.8,1441.1 714.8,1439.9 715.8,1439.3 716.8,1438.5 717.9,1437.5 718.9,1436.5 719.9,1435.3 720.9,1433.9 721.9,1432.4 723,1430.6 724,1428.6 725,1426.3 726,1423.7 727,1420.9 728,1417.6 729.1,1414.1 730.1,1410.1 731.1,1405.7 732.1,1400.9 734.2,1390.1 736.2,1377.6 738.2,1363.7 746.4,1302.7 748.4,1289 750.4,1276.7 752.5,1266 753.5,1261.3 754.5,1257.1 755.5,1253.2 756.5,1249.7 757.6,1246.6 758.6,1243.8 759.6,1241.3 760.6,1239.1 761.6,1237.1 762.7,1235.4 763.7,1233.9 764.7,1232.6 765.7,1231.4 766.7,1230.4 767.7,1229.5 768.8,1228.7 770.8,1227.5 772.8,1226.6 773.9,1226.3 774.9,1226 775.9,1225.9 776.9,1226 777.9,1226.1 778.9,1226.3 781,1227.1 783,1228.2 785.1,1229.5 788.1,1231.8 793.2,1236.3 810.5,1253.4 816.6,1258.8 823.7,1264.4 830.9,1269.2 838,1273.3 846.1,1277.2 856.3,1281.1 870.6,1285.3 880.7,1287.6 883.8,1288" stroke="#ff0080"/>
<path d="M680.2,1439 716.8,1439 717.9,1438.4 718.9,1437.6 719.9,1436.6 720.9,1435.5 721.9,1434.3 723,1432.9 724,1431.4 725,1429.6 726,1427.6 727,1425.4 728,1423 729.1,1420.2 730.1,1417.2 731.1,1413.9 732.1,1410.2 733.1,1406.2 735.2,1397 737.2,1386.4 739.2,1374.4 742.3,1354.3 749.4,1303.8 751.5,1290.5 753.5,1278.4 755.5,1267.7 757.6,1258.4 758.6,1254.3 759.6,1250.6 760.6,1247.2 761.6,1244.1 762.7,1241.3 763.7,1238.8 764.7,1236.6 765.7,1234.6 766.7,1232.8 767.7,1231.2 768.8,1229.8 769.8,1228.6 770.8,1227.4 771.8,1226.5 772.8,1225.6 774.9,1224.2 776.9,1223.1 778.9,1222.2 781,1221.7 782,1221.6 783,1221.5 785.1,1221.6 787.1,1222 790.1,1223 794.2,1224.8 801.3,1228.8 822.7,1242.2 833.9,1248.2 845.1,1253 858.4,1257.5 875.7,1261.9 881.8,1263.1 883.8,1263.3" stroke="#0b8a3c"/>
<path d="M680.2,1442.5 708.7,1442.5 709.7,1442.5 712.8,1441.6 714.8,1440.8 716.8,1439.8 718.9,1438.5 720.9,1436.9 721.9,1435.9 723,1434.8 724,1433.6 725,1432.3 726,1430.8 727,1429.2 728,1427.3 729.1,1425.3 730.1,1423 731.1,1420.6 732.1,1417.8 733.1,1414.9 734.2,1411.6 736.2,1404.2 738.2,1395.6 740.3,1385.7 742.3,1374.7 745.4,1356.2 753.5,1302.7 756.5,1284.4 758.6,1273.5 760.6,1263.7 762.7,1255.2 764.7,1247.9 765.7,1244.7 766.7,1241.8 767.7,1239.1 768.8,1236.7 769.8,1234.5 770.8,1232.5 771.8,1230.7 772.8,1229.1 773.9,1227.6 774.9,1226.3 775.9,1225.1 777.9,1223.1 780,1221.6 782,1220.3 784,1219.3 786.1,1218.6 788.1,1218 790.1,1217.6 792.2,1217.5 794.2,1217.6 798.3,1218.3 806.4,1220.3 841,1231.6 863.4,1236.9 880.7,1239.8 883.8,1240.1" stroke="#96c83c"/>
<path d="M680.2,1440.1 716.8,1440.1 718.9,1439.1 720.9,1437.7 723,1436.1 725,1434.1 727,1431.6 728,1430.2 729.1,1428.6 730.1,1426.8 731.1,1424.9 732.1,1422.8 733.1,1420.5 734.2,1418 736.2,1412.4 738.2,1405.7 740.3,1398 742.3,1389.3 744.3,1379.5 747.4,1363.1 758.6,1295.3 761.6,1278.7 763.7,1268.8 765.7,1259.9 767.7,1252.1 769.8,1245.3 771.8,1239.5 772.8,1237 773.9,1234.6 774.9,1232.5 775.9,1230.5 776.9,1228.8 777.9,1227.1 778.9,1225.7 781,1223.1 783,1221.1 785.1,1219.4 787.1,1218 789.1,1216.9 791.2,1216 794.2,1215 797.3,1214.4 799.3,1214.1 802.4,1214.1 811.5,1215.1 867.5,1225 882.8,1226.7 883.8,1226.8" stroke="#f2be5a"/>
<path d="M680.2,1437.8 720.9,1437.8 721.9,1437.7 724,1436.1 726,1434.3 728,1432.1 730.1,1429.4 732.1,1426.2 734.2,1422.4 736.2,1417.9 738.2,1412.7 740.3,1406.6 742.3,1399.6 744.3,1391.8 746.4,1383 748.4,1373.3 751.5,1357.5 761.6,1299.5 764.7,1283.4 766.7,1273.6 768.8,1264.6 770.8,1256.5 772.8,1249.4 774.9,1243.1 776.9,1237.7 778.9,1233.1 781,1229.2 783,1225.9 785.1,1223.1 787.1,1220.8 789.1,1218.9 791.2,1217.3 793.2,1216 795.2,1214.9 798.3,1213.7 801.3,1212.7 804.4,1212.1 807.5,1211.7 883.8,1215.5" stroke="#f07070"/>
<path d="M680.2,1441.3 713.8,1441.3 714.8,1441.2 717.9,1440.2 720.9,1438.9 723,1437.7 725,1436.4 727,1434.8 729.1,1433 731.1,1430.8 733.1,1428.2 735.2,1425.1 737.2,1421.6 739.2,1417.5 741.3,1412.8 743.3,1407.4 745.4,1401.3 747.4,1394.5 749.4,1386.9 751.5,1378.6 754.5,1365 768.8,1292.6 771.8,1278.4 773.9,1269.8 775.9,1261.8 777.9,1254.6 780,1248.2 782,1242.4 784,1237.3 786.1,1232.9 788.1,1229.1 790.1,1225.8 792.2,1223 794.2,1220.6 796.3,1218.5 798.3,1216.8 800.3,1215.4 802.4,1214.1 805.4,1212.6 808.5,1211.5 812.5,1210.4 816.6,1209.7 820.7,1209.3 883.8,1210.6" stroke="#f4688c"/>
<path d="M680.2,1439 720.9,1439 721.9,1438.7 725,1437.2 728,1435.4 730.1,1433.9 732.1,1432.1 734.2,1430.1 736.2,1427.8 738.2,1425.2 740.3,1422.2 742.3,1418.8 744.3,1414.9 746.4,1410.6 748.4,1405.7 750.4,1400.3 752.5,1394.4 754.5,1388 757.6,1377.2 760.6,1365.4 766.7,1339.2 775.9,1298.1 780,1281.3 783,1269.8 786.1,1259.5 788.1,1253.3 790.1,1247.7 792.2,1242.6 794.2,1238 796.3,1233.9 798.3,1230.2 800.3,1227 802.4,1224.2 804.4,1221.8 806.4,1219.6 808.5,1217.7 810.5,1216.1 812.5,1214.7 815.6,1213 818.6,1211.6 822.7,1210.2 827.8,1208.9 834.9,1207.8 844.1,1207.2 883.8,1207.1" stroke="#1e96c8"/>
</g>
<line x1="409.5" y1="851.6" x2="409.5" y2="1444.7" stroke="#000" stroke-width="4.2"/>
<line x1="660.3" y1="851.6" x2="660.3" y2="1444.7" stroke="#000" stroke-width="4.2"/>
<rect x="567.5" y="898.5" width="174.5" height="247" fill="#fff" stroke="#eee" stroke-width="1"/>
<rect x="742" y="898.5" width="160" height="212" fill="#fff"/>
<rect x="161.4" y="851.6" width="744.6" height="593.1" fill="none" stroke="#000" stroke-width="4.8"/>
<line x1="159" y1="1445.1" x2="908.4" y2="1445.1" stroke="#000" stroke-width="5.4"/>
<line x1="161.4" y1="1246.7" x2="169.4" y2="1246.7" stroke="#000" stroke-width="3.4"/>
<line x1="161.4" y1="1048.9" x2="169.4" y2="1048.9" stroke="#000" stroke-width="3.4"/>
<line x1="161.4" y1="1345.6" x2="165.9" y2="1345.6" stroke="#000" stroke-width="2.6"/>
<line x1="161.4" y1="1147.8" x2="165.9" y2="1147.8" stroke="#000" stroke-width="2.6"/>
<line x1="161.4" y1="950" x2="165.9" y2="950" stroke="#000" stroke-width="2.6"/>
<line x1="410" y1="914.5" x2="474.5" y2="914.5" stroke="#000000" stroke-width="4.4"/>
<text transform="matrix(0.9160 0 0 1.0000 483.3 924.6)" font-family="'Liberation Serif',serif" font-size="29.8" fill="#000" font-weight="bold">1 kHz</text>
<line x1="410" y1="949.3" x2="474.5" y2="949.3" stroke="#ff0000" stroke-width="4.4"/>
<text transform="matrix(0.8987 0 0 1.0000 484.6 959.4)" font-family="'Liberation Serif',serif" font-size="29.8" fill="#000" font-weight="bold">5 kHz</text>
<line x1="410" y1="984.1" x2="474.5" y2="984.1" stroke="#0000ff" stroke-width="4.4"/>
<text transform="matrix(0.8987 0 0 1.0000 484.6 994.2)" font-family="'Liberation Serif',serif" font-size="29.8" fill="#000" font-weight="bold">8 kHz</text>
<line x1="410" y1="1018.9" x2="474.5" y2="1018.9" stroke="#e632dc" stroke-width="4.4"/>
<text transform="matrix(0.9225 0 0 1.0000 483.3 1029)" font-family="'Liberation Serif',serif" font-size="29.8" fill="#000" font-weight="bold">10 kHz</text>
<line x1="410" y1="1053.7" x2="474.5" y2="1053.7" stroke="#7a7a14" stroke-width="4.4"/>
<text transform="matrix(0.9080 0 0 1.0000 484.6 1063.8)" font-family="'Liberation Serif',serif" font-size="29.8" fill="#000" font-weight="bold">20 kHz</text>
<line x1="410" y1="1088.5" x2="474.5" y2="1088.5" stroke="#14146e" stroke-width="4.4"/>
<text transform="matrix(0.9080 0 0 1.0000 484.6 1098.6)" font-family="'Liberation Serif',serif" font-size="29.8" fill="#000" font-weight="bold">30 kHz</text>
<line x1="410" y1="1123.3" x2="474.5" y2="1123.3" stroke="#7a1414" stroke-width="4.4"/>
<text transform="matrix(0.8986 0 0 1.0000 485.4 1133.4)" font-family="'Liberation Serif',serif" font-size="29.8" fill="#000" font-weight="bold">40 kHz</text>
<line x1="569.5" y1="918.7" x2="634.5" y2="918.7" stroke="#1e7b1e" stroke-width="4.4"/>
<text transform="matrix(0.9272 0 0 1.0000 643.3 927.3)" font-family="'Liberation Serif',serif" font-size="29.8" fill="#000" font-weight="bold">50 kHz</text>
<line x1="569.5" y1="953.4" x2="634.5" y2="953.4" stroke="#0f7f7f" stroke-width="4.4"/>
<text transform="matrix(0.9272 0 0 1.0000 643.3 962)" font-family="'Liberation Serif',serif" font-size="29.8" fill="#000" font-weight="bold">60 kHz</text>
<line x1="569.5" y1="988.1" x2="634.5" y2="988.1" stroke="#1f7f7f" stroke-width="4.4"/>
<text transform="matrix(0.9272 0 0 1.0000 643.3 996.7)" font-family="'Liberation Serif',serif" font-size="29.8" fill="#000" font-weight="bold">80 kHz</text>
<line x1="569.5" y1="1022.8" x2="634.5" y2="1022.8" stroke="#1a1a8c" stroke-width="4.4"/>
<text transform="matrix(0.9105 0 0 1.0000 643.8 1031.4)" font-family="'Liberation Serif',serif" font-size="29.8" fill="#000" font-weight="bold">100 kHz</text>
<line x1="569.5" y1="1057.5" x2="634.5" y2="1057.5" stroke="#ff6e0a" stroke-width="4.4"/>
<text transform="matrix(0.8982 0 0 1.0000 645.1 1066.1)" font-family="'Liberation Serif',serif" font-size="29.8" fill="#000" font-weight="bold">200 kHz</text>
<line x1="569.5" y1="1092.2" x2="634.5" y2="1092.2" stroke="#9146ff" stroke-width="4.4"/>
<text transform="matrix(0.8982 0 0 1.0000 645.1 1100.8)" font-family="'Liberation Serif',serif" font-size="29.8" fill="#000" font-weight="bold">300 kHz</text>
<line x1="569.5" y1="1126.9" x2="634.5" y2="1126.9" stroke="#f0146e" stroke-width="4.4"/>
<text transform="matrix(0.8902 0 0 1.0000 645.9 1135.5)" font-family="'Liberation Serif',serif" font-size="29.8" fill="#000" font-weight="bold">400 kHz</text>
<line x1="742" y1="914.2" x2="795" y2="914.2" stroke="#0b8a3c" stroke-width="4.4"/>
<text transform="matrix(0.8905 0 0 1.0000 805.9 924)" font-family="'Liberation Serif',serif" font-size="29.8" fill="#000" font-weight="bold">500 kHz</text>
<line x1="742" y1="949.1" x2="795" y2="949.1" stroke="#96c83c" stroke-width="4.4"/>
<text transform="matrix(0.8905 0 0 1.0000 805.9 958.9)" font-family="'Liberation Serif',serif" font-size="29.8" fill="#000" font-weight="bold">600 kHz</text>
<line x1="742" y1="984" x2="795" y2="984" stroke="#f2be5a" stroke-width="4.4"/>
<text transform="matrix(0.8945 0 0 1.0000 805.5 993.8)" font-family="'Liberation Serif',serif" font-size="29.8" fill="#000" font-weight="bold">700 kHz</text>
<line x1="742" y1="1018.9" x2="795" y2="1018.9" stroke="#f07070" stroke-width="4.4"/>
<text transform="matrix(0.8905 0 0 1.0000 805.9 1028.7)" font-family="'Liberation Serif',serif" font-size="29.8" fill="#000" font-weight="bold">800 kHz</text>
<line x1="742" y1="1053.8" x2="795" y2="1053.8" stroke="#f4688c" stroke-width="4.4"/>
<text transform="matrix(0.8865 0 0 1.0000 806.3 1063.6)" font-family="'Liberation Serif',serif" font-size="29.8" fill="#000" font-weight="bold">900 kHz</text>
<line x1="742" y1="1088.7" x2="795" y2="1088.7" stroke="#1e96c8" stroke-width="4.4"/>
<text transform="matrix(0.8794 0 0 1.0000 807.2 1098.7)" font-family="'Liberation Serif',serif" font-size="29.8" fill="#000" font-weight="bold">1 MHz</text>
<text transform="matrix(0.9158 0 0 1.0000 167.4 889.4)" font-family="'Liberation Serif',serif" font-size="39.6" fill="#000" font-weight="bold" stroke="#fff" stroke-width="0.47" stroke-linejoin="round">(b)</text>
<text transform="matrix(0.9799 0 0 1.0000 221.1 889.4)" font-family="'Liberation Serif',serif" font-size="39.6" fill="#000" font-weight="bold" stroke="#fff" stroke-width="0.45" stroke-linejoin="round">Sample A</text>
<text transform="matrix(0.9951 0 0 1.0000 419.7 889.4)" font-family="'Liberation Serif',serif" font-size="39.6" fill="#000" font-weight="bold" stroke="#fff" stroke-width="0.45" stroke-linejoin="round">(c)</text>
<text transform="matrix(0.9799 0 0 1.0000 471.1 889.4)" font-family="'Liberation Serif',serif" font-size="39.6" fill="#1414e6" font-weight="bold" stroke="#fff" stroke-width="0.45" stroke-linejoin="round">Sample B</text>
<text transform="matrix(0.9530 0 0 1.0000 666.4 889.4)" font-family="'Liberation Serif',serif" font-size="39.6" fill="#000" font-weight="bold" stroke="#fff" stroke-width="0.46" stroke-linejoin="round">(d)</text>
<text transform="matrix(0.9817 0 0 1.0000 722.8 889.4)" font-family="'Liberation Serif',serif" font-size="39.6" fill="#e61414" font-weight="bold" stroke="#fff" stroke-width="0.45" stroke-linejoin="round">Sample C</text>
<text transform="matrix(0.8172 0 0 0.5088 334.8 994.5)" font-family="'Liberation Serif',serif" font-size="100" fill="#000" font-style="italic" stroke="#000" stroke-width="0.7">f</text>
<text transform="matrix(0.6597 0 0 0.5163 607.7 1195.7)" font-family="'Liberation Serif',serif" font-size="100" fill="#000" font-style="italic" stroke="#000" stroke-width="0.7">f</text>
<text transform="matrix(0.4923 0 0 0.5013 856 1179.5)" font-family="'Liberation Serif',serif" font-size="100" fill="#000" font-style="italic" stroke="#000" stroke-width="0.7">f</text>
<line x1="366" y1="1024" x2="380.6" y2="973.7" stroke="#000" stroke-width="4.2"/><polygon points="389.6,943 387.5,984.1 369.3,978.7" fill="#000"/>
<line x1="342.7" y1="1220.6" x2="372.3" y2="1052.5" stroke="#000" stroke-width="4.2"/><polygon points="377.9,1021 380.3,1062 361.6,1058.7" fill="#000"/>
<line x1="563.3" y1="1346" x2="596.3" y2="1203.2" stroke="#000" stroke-width="4.2"/><polygon points="603.5,1172 603.8,1213.1 585.2,1208.8" fill="#000"/>
<line x1="628.6" y1="1224" x2="642" y2="1174.4" stroke="#000" stroke-width="4.2"/><polygon points="650.4,1143.5 649.1,1184.6 630.8,1179.6" fill="#000"/>
<line x1="810" y1="1357" x2="840.2" y2="1218.3" stroke="#000" stroke-width="4.2"/><polygon points="847,1187 847.8,1228.1 829.2,1224.1" fill="#000"/>
<line x1="872.8" y1="1208.9" x2="886.3" y2="1158.5" stroke="#000" stroke-width="4.2"/><polygon points="894.6,1127.6 893.4,1168.7 875.1,1163.8" fill="#000"/>
<text transform="matrix(0.8954 0 0 1.0000 106.9 861.5)" font-family="'Liberation Serif',serif" font-size="40.6" fill="#000" font-weight="bold" stroke="#fff" stroke-width="0.47" stroke-linejoin="round">1.2</text>
<text transform="matrix(0.9741 0 0 1.0000 105.2 1060.2)" font-family="'Liberation Serif',serif" font-size="40.6" fill="#000" font-weight="bold" stroke="#fff" stroke-width="0.46" stroke-linejoin="round">0.8</text>
<text transform="matrix(0.9614 0 0 1.0000 105.2 1259)" font-family="'Liberation Serif',serif" font-size="40.6" fill="#000" font-weight="bold" stroke="#fff" stroke-width="0.46" stroke-linejoin="round">0.4</text>
<text transform="matrix(0.9741 0 0 1.0000 105.2 1457.7)" font-family="'Liberation Serif',serif" font-size="40.6" fill="#000" font-weight="bold" stroke="#fff" stroke-width="0.46" stroke-linejoin="round">0.0</text>
<text transform="matrix(0.8751 0 0 1.0000 170.6 1485.1)" font-family="'Liberation Serif',serif" font-size="42.3" fill="#000" font-weight="bold" stroke="#fff" stroke-width="0.48" stroke-linejoin="round">-2</text>
<text transform="matrix(0.8598 0 0 1.0000 277.1 1485.1)" font-family="'Liberation Serif',serif" font-size="42.3" fill="#000" font-weight="bold" stroke="#fff" stroke-width="0.48" stroke-linejoin="round">0</text>
<text transform="matrix(0.9085 0 0 1.0000 375.8 1485.1)" font-family="'Liberation Serif',serif" font-size="42.3" fill="#000" font-weight="bold" stroke="#fff" stroke-width="0.47" stroke-linejoin="round">2</text>
<text transform="matrix(0.9518 0 0 1.0000 418 1485.1)" font-family="'Liberation Serif',serif" font-size="42.3" fill="#000" font-weight="bold" stroke="#fff" stroke-width="0.46" stroke-linejoin="round">-2</text>
<text transform="matrix(0.8598 0 0 1.0000 526.2 1485.1)" font-family="'Liberation Serif',serif" font-size="42.3" fill="#000" font-weight="bold" stroke="#fff" stroke-width="0.48" stroke-linejoin="round">0</text>
<text transform="matrix(0.9085 0 0 1.0000 624.9 1485.1)" font-family="'Liberation Serif',serif" font-size="42.3" fill="#000" font-weight="bold" stroke="#fff" stroke-width="0.47" stroke-linejoin="round">2</text>
<text transform="matrix(0.8996 0 0 1.0000 665.6 1485.1)" font-family="'Liberation Serif',serif" font-size="42.3" fill="#000" font-weight="bold" stroke="#fff" stroke-width="0.47" stroke-linejoin="round">-2</text>
<text transform="matrix(0.8598 0 0 1.0000 771.2 1485.1)" font-family="'Liberation Serif',serif" font-size="42.3" fill="#000" font-weight="bold" stroke="#fff" stroke-width="0.48" stroke-linejoin="round">0</text>
<text transform="matrix(0.9517 0 0 1.0000 870.7 1485.1)" font-family="'Liberation Serif',serif" font-size="42.3" fill="#000" font-weight="bold" stroke="#fff" stroke-width="0.46" stroke-linejoin="round">2</text>
<text transform="matrix(0.9130 0 0 1.0000 481.2 1529.5)" font-family="'Liberation Serif',serif" font-size="39.6" fill="#000" font-weight="bold" stroke="#fff" stroke-width="0.47" stroke-linejoin="round">V</text>
<text transform="matrix(0.2323 0 0 0.2211 507.8 1540.9)" font-family="'Liberation Serif',serif" font-size="100" fill="#000" font-weight="bold">G</text>
<text transform="matrix(0.3740 0 0 0.3916 538.7 1529.3)" font-family="'Liberation Serif',serif" font-size="100" fill="#000" font-weight="bold" stroke="#fff" stroke-width="1.18" stroke-linejoin="round">(V)</text>
<text transform="translate(76.9 1260.1) rotate(-90) matrix(0.9130 0 0 1.0000 -1.7 0)" font-family="'Liberation Serif',serif" font-size="39.9" fill="#000" font-weight="bold" stroke="#fff" stroke-width="0.47" stroke-linejoin="round">G</text>
<text transform="translate(76.9 1260.1) rotate(-90) matrix(0.9119 0 0 1.0000 30.2 12.1)" font-family="'Liberation Serif',serif" font-size="26.5" fill="#000" font-weight="bold">m</text>
<text transform="translate(76.9 1260.1) rotate(-90) matrix(1.0152 0 0 1.0000 52.1 0)" font-family="'Liberation Serif',serif" font-size="39.9" fill="#000" font-weight="bold" stroke="#fff" stroke-width="0.45" stroke-linejoin="round">/ω (μF/cm</text>
<text transform="translate(76.9 1260.1) rotate(-90) matrix(0.9763 0 0 1.0000 226.6 -19.9)" font-family="'Liberation Serif',serif" font-size="20.8" fill="#000" font-weight="bold">2</text>
<text transform="translate(76.9 1260.1) rotate(-90) matrix(1.2353 0 0 1.0000 237.7 0)" font-family="'Liberation Serif',serif" font-size="39.9" fill="#000" font-weight="bold" stroke="#fff" stroke-width="0.40" stroke-linejoin="round">)</text>
<text transform="matrix(0.8000 0 0 0.9191 13.8 823.4)" font-family="'Liberation Sans',sans-serif" font-size="100" fill="#000">(</text><text transform="matrix(0.9225 0 0 0.9191 43.8 824.6)" font-family="'Liberation Sans',sans-serif" font-size="100" fill="#000">c</text><text transform="matrix(0.8036 0 0 0.9191 94.3 823.4)" font-family="'Liberation Sans',sans-serif" font-size="100" fill="#000">)</text>
</svg>
</body>
</html>
